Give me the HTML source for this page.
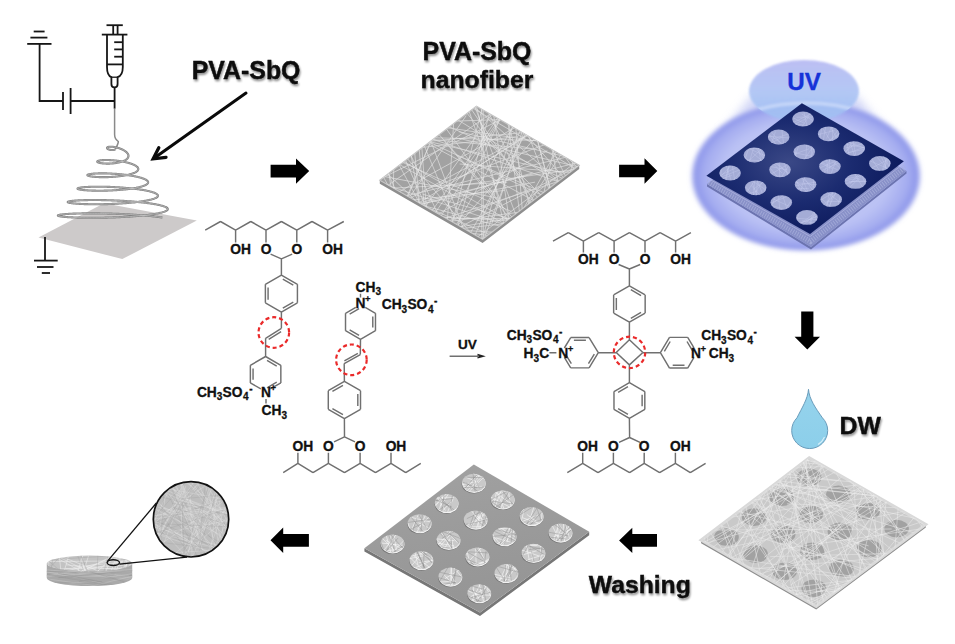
<!DOCTYPE html>
<html><head><meta charset="utf-8"><style>
html,body{margin:0;padding:0;background:#fff;width:955px;height:644px;overflow:hidden}
svg{display:block}
</style></head><body>
<svg width="955" height="644" viewBox="0 0 955 644">
<defs><filter id="tsh" x="-10%" y="-30%" width="130%" height="170%"><feGaussianBlur in="SourceAlpha" stdDeviation="1.2"/><feOffset dx="1" dy="1.5" result="b"/><feComponentTransfer><feFuncA type="linear" slope="0.45"/></feComponentTransfer><feMerge><feMergeNode/><feMergeNode in="SourceGraphic"/></feMerge></filter><linearGradient id="drop" x1="0" y1="0" x2="0" y2="1"><stop offset="0" stop-color="#96d3ec"/><stop offset="1" stop-color="#8ccfea"/></linearGradient><clipPath id="cp1"><polygon points="476.4,106.2 379.8,180.2 482.6,239.3 579.2,165.3"/></clipPath><radialGradient id="glow" cx="0.5" cy="0.5" r="0.5"><stop offset="0" stop-color="#cfd4f8"/><stop offset="0.72" stop-color="#bac1f4"/><stop offset="0.88" stop-color="#a4acf0"/><stop offset="0.96" stop-color="#8e97ea"/><stop offset="1" stop-color="#8e97ea" stop-opacity="0"/></radialGradient><filter id="blur3" x="-20%" y="-20%" width="140%" height="140%"><feGaussianBlur stdDeviation="3"/></filter><filter id="blur2" x="-20%" y="-20%" width="140%" height="140%"><feGaussianBlur stdDeviation="2"/></filter><filter id="blur06" x="-20%" y="-20%" width="140%" height="140%"><feGaussianBlur stdDeviation="0.7"/></filter><filter id="blur1" x="-20%" y="-20%" width="140%" height="140%"><feGaussianBlur stdDeviation="1"/></filter><filter id="blur5" x="-30%" y="-30%" width="160%" height="160%"><feGaussianBlur stdDeviation="5"/></filter><linearGradient id="uvtop" x1="0" y1="0" x2="0" y2="1"><stop offset="0" stop-color="#b3b6f2"/><stop offset="0.6" stop-color="#a9c3f4"/><stop offset="1" stop-color="#9fc0f3"/></linearGradient><clipPath id="cp2"><ellipse cx="804" cy="91" rx="55" ry="31"/></clipPath><clipPath id="cp3"><polygon points="706.4,175.8 810,233.9 903.9,161.3 906.5,171 811,247 707,184"/></clipPath><radialGradient id="mask" cx="0.42" cy="0.45" r="0.62"><stop offset="0" stop-color="#3a4886"/><stop offset="0.5" stop-color="#1b2b70"/><stop offset="1" stop-color="#0a1759"/></radialGradient><clipPath id="cp4"><ellipse cx="803" cy="119" rx="10.8" ry="7.4"/></clipPath><clipPath id="cp5"><ellipse cx="828.6" cy="133.8" rx="10.8" ry="7.4"/></clipPath><clipPath id="cp6"><ellipse cx="854.2" cy="148.6" rx="10.8" ry="7.4"/></clipPath><clipPath id="cp7"><ellipse cx="879.8" cy="163.4" rx="10.8" ry="7.4"/></clipPath><clipPath id="cp8"><ellipse cx="778.7" cy="137" rx="10.8" ry="7.4"/></clipPath><clipPath id="cp9"><ellipse cx="804.3" cy="151.8" rx="10.8" ry="7.4"/></clipPath><clipPath id="cp10"><ellipse cx="829.9" cy="166.6" rx="10.8" ry="7.4"/></clipPath><clipPath id="cp11"><ellipse cx="855.5" cy="181.4" rx="10.8" ry="7.4"/></clipPath><clipPath id="cp12"><ellipse cx="754.4" cy="155" rx="10.8" ry="7.4"/></clipPath><clipPath id="cp13"><ellipse cx="780" cy="169.8" rx="10.8" ry="7.4"/></clipPath><clipPath id="cp14"><ellipse cx="805.6" cy="184.6" rx="10.8" ry="7.4"/></clipPath><clipPath id="cp15"><ellipse cx="831.2" cy="199.4" rx="10.8" ry="7.4"/></clipPath><clipPath id="cp16"><ellipse cx="730.1" cy="173" rx="10.8" ry="7.4"/></clipPath><clipPath id="cp17"><ellipse cx="755.7" cy="187.8" rx="10.8" ry="7.4"/></clipPath><clipPath id="cp18"><ellipse cx="781.3" cy="202.6" rx="10.8" ry="7.4"/></clipPath><clipPath id="cp19"><ellipse cx="806.9" cy="217.4" rx="10.8" ry="7.4"/></clipPath><clipPath id="cp20"><polygon points="809.3,457.8 701.1,540.2 816.2,606.5 925.8,524.4"/></clipPath><linearGradient id="m4" x1="0" y1="0" x2="0.3" y2="1"><stop offset="0" stop-color="#a2a2a2"/><stop offset="1" stop-color="#959595"/></linearGradient><clipPath id="cp21"><ellipse cx="473.7" cy="482.8" rx="11.8" ry="9"/></clipPath><clipPath id="cp22"><ellipse cx="502.6" cy="499.4" rx="11.8" ry="9"/></clipPath><clipPath id="cp23"><ellipse cx="531.5" cy="516" rx="11.8" ry="9"/></clipPath><clipPath id="cp24"><ellipse cx="560.4" cy="532.6" rx="11.8" ry="9"/></clipPath><clipPath id="cp25"><ellipse cx="446.6" cy="503" rx="11.8" ry="9"/></clipPath><clipPath id="cp26"><ellipse cx="475.5" cy="519.6" rx="11.8" ry="9"/></clipPath><clipPath id="cp27"><ellipse cx="504.4" cy="536.2" rx="11.8" ry="9"/></clipPath><clipPath id="cp28"><ellipse cx="533.3" cy="552.8" rx="11.8" ry="9"/></clipPath><clipPath id="cp29"><ellipse cx="419.5" cy="523.2" rx="11.8" ry="9"/></clipPath><clipPath id="cp30"><ellipse cx="448.4" cy="539.8" rx="11.8" ry="9"/></clipPath><clipPath id="cp31"><ellipse cx="477.3" cy="556.4" rx="11.8" ry="9"/></clipPath><clipPath id="cp32"><ellipse cx="506.2" cy="573" rx="11.8" ry="9"/></clipPath><clipPath id="cp33"><ellipse cx="392.4" cy="543.4" rx="11.8" ry="9"/></clipPath><clipPath id="cp34"><ellipse cx="421.3" cy="560" rx="11.8" ry="9"/></clipPath><clipPath id="cp35"><ellipse cx="450.2" cy="576.6" rx="11.8" ry="9"/></clipPath><clipPath id="cp36"><ellipse cx="479.1" cy="593.2" rx="11.8" ry="9"/></clipPath><clipPath id="cp37"><polygon points="46.8,563.5 46.8,578 60,584 89.5,586 119,584 132.2,578 132.2,563.5"/></clipPath><clipPath id="cp38"><ellipse cx="89.5" cy="563.5" rx="42.7" ry="7.9"/></clipPath><clipPath id="cp39"><ellipse cx="190.9" cy="519.6" rx="37.7" ry="37.7"/></clipPath></defs>
<rect width="955" height="644" fill="#fff"/>
<line x1="33.7" y1="31.5" x2="44.6" y2="31.5" stroke="#161616" stroke-width="1.8" /><line x1="30.4" y1="37.6" x2="47.4" y2="37.6" stroke="#161616" stroke-width="1.8" /><line x1="27.2" y1="43.9" x2="51.5" y2="43.9" stroke="#161616" stroke-width="1.8" /><polyline points="39.6,43.9 39.6,101 63,101" fill="none" stroke="#161616" stroke-width="1.8"/><line x1="63" y1="92" x2="63" y2="110" stroke="#161616" stroke-width="1.8" /><line x1="70.6" y1="88" x2="70.6" y2="114" stroke="#161616" stroke-width="1.8" /><line x1="70.6" y1="101" x2="114.6" y2="101" stroke="#161616" stroke-width="1.8" /><line x1="114.6" y1="87" x2="114.6" y2="108.7" stroke="#161616" stroke-width="1.8" /><line x1="106.5" y1="25.2" x2="122.8" y2="25.2" stroke="#161616" stroke-width="1.8" /><line x1="113.2" y1="25.2" x2="113.2" y2="34.6" stroke="#161616" stroke-width="1.8" /><line x1="117.6" y1="25.2" x2="117.6" y2="34.6" stroke="#161616" stroke-width="1.8" /><line x1="101.8" y1="34.6" x2="127.4" y2="34.6" stroke="#161616" stroke-width="1.8" /><path d="M107,34.6 V67 Q107,75.5 111.4,77.2 V84 Q111.4,87.4 114.5,87.4 Q117.6,87.4 117.6,84 V77.2 Q122.8,75.5 122.8,67 V34.6" fill="none" stroke="#161616" stroke-width="1.8" stroke-linejoin="round"/><line x1="107" y1="64.4" x2="122.8" y2="64.4" stroke="#161616" stroke-width="1.8" /><line x1="111.4" y1="77.2" x2="117.6" y2="77.2" stroke="#161616" stroke-width="1.3" /><line x1="114.2" y1="42.2" x2="122.8" y2="42.2" stroke="#161616" stroke-width="1.8" /><line x1="114.2" y1="49.4" x2="122.8" y2="49.4" stroke="#161616" stroke-width="1.8" /><line x1="114.2" y1="56.7" x2="122.8" y2="56.7" stroke="#161616" stroke-width="1.8" /><polygon points="38.5,237.4 104,203.2 196.8,220.4 122.3,259.1" fill="#cdcaca" stroke="none" stroke-width="0" /><line x1="45" y1="237" x2="45" y2="260.6" stroke="#161616" stroke-width="1.8" /><line x1="34" y1="260.6" x2="57.7" y2="260.6" stroke="#161616" stroke-width="1.8" /><line x1="37" y1="267" x2="53.5" y2="267" stroke="#161616" stroke-width="1.8" /><line x1="41.8" y1="273" x2="50" y2="273" stroke="#161616" stroke-width="1.8" /><path d="M114.6,108.7 V134.5 Q114.6,139 118.3,141.5 Q118.5,143 115.3,149.54" stroke="#8a8a8a" stroke-width="1.5" fill="none"/><path d="M115.3,149.54 L115.13,149.6 L114.96,149.66 L114.78,149.71 L114.61,149.76 L114.43,149.81 L114.25,149.85 L114.06,149.89 L113.88,149.92 L113.69,149.96 L113.51,149.98 L113.32,150.01 L113.13,150.02 L112.94,150.04 L112.75,150.05 L112.56,150.06 L112.37,150.07 L112.18,150.07 L111.99,150.06 L111.8,150.06 L111.61,150.05 L111.42,150.04 L111.24,150.02 L111.05,150 L110.87,149.98 L110.68,149.96 L110.51,149.93 L110.33,149.9 L110.15,149.87 L109.98,149.83 L109.81,149.79 L109.64,149.75 L109.48,149.71 L109.32,149.66 L109.16,149.61 L109.01,149.56 L108.86,149.51 L108.72,149.46 L108.58,149.4 L108.44,149.34 L108.31,149.28 L108.19,149.22 L108.07,149.16 L107.96,149.1 L107.85,149.03 L107.74,148.97 L107.65,148.9 L107.56,148.83 L107.47,148.76 L107.39,148.69 L107.32,148.62 L107.26,148.55 L107.2,148.48 L107.15,148.41 L107.1,148.34 L107.07,148.27 L107.04,148.2 L107.01,148.13 L107,148.06 L106.99,147.99 L106.99,147.92 L107,147.86 L107.02,147.79 L107.04,147.72 L107.07,147.66 L107.12,147.6 L107.16,147.53 L107.22,147.47 L107.28,147.41 L107.36,147.36 L107.44,147.3 L107.53,147.25 L107.62,147.19 L107.73,147.14 L107.84,147.1 L107.97,147.05 L108.09,147.01 L108.23,146.97 L108.38,146.93 L108.53,146.89 L108.69,146.86 L108.86,146.83 L109.04,146.8 L109.22,146.78 L109.41,146.76 L109.61,146.74 L109.82,146.72 L110.03,146.71 L110.25,146.7 L110.48,146.7 L110.71,146.7 L110.95,146.7 L111.2,146.7 L111.45,146.71 L111.71,146.73 L111.97,146.74 L112.24,146.76 L112.51,146.79 L112.79,146.81 L113.08,146.85 L113.36,146.88 L113.66,146.92 L113.95,146.96 L114.26,147.01 L114.56,147.06 L114.87,147.12 L115.18,147.18 L115.49,147.24 L115.81,147.31 L116.13,147.38 L116.45,147.45 L116.77,147.53 L117.1,147.61 L117.42,147.7 L117.75,147.79 L118.08,147.89 L118.4,147.98 L118.73,148.09 L119.05,148.19 L119.38,148.3 L119.71,148.42 L120.03,148.53 L120.35,148.66 L120.67,148.78 L120.99,148.91 L121.3,149.04 L121.61,149.17 L121.92,149.31 L122.23,149.45 L122.53,149.6 L122.83,149.75 L123.12,149.9 L123.41,150.05 L123.69,150.21 L123.97,150.37 L124.24,150.53 L124.5,150.7 L124.76,150.86 L125.02,151.03 L125.26,151.21 L125.5,151.38 L125.73,151.56 L125.96,151.74 L126.17,151.92 L126.38,152.1 L126.58,152.29 L126.77,152.47 L126.95,152.66 L127.13,152.85 L127.29,153.04 L127.44,153.24 L127.59,153.43 L127.72,153.62 L127.84,153.82 L127.96,154.02 L128.06,154.21 L128.15,154.41 L128.23,154.61 L128.3,154.81 L128.36,155.01 L128.41,155.2 L128.44,155.4 L128.47,155.6 L128.48,155.8 L128.48,156 L128.47,156.2 L128.44,156.39 L128.41,156.59 L128.36,156.78 L128.3,156.98 L128.23,157.17 L128.15,157.36 L128.05,157.55 L127.95,157.74 L127.83,157.93 L127.69,158.12 L127.55,158.3 L127.39,158.48 L127.23,158.67 L127.05,158.84 L126.86,159.02 L126.65,159.19 L126.44,159.37 L126.21,159.54 L125.98,159.7 L125.73,159.87 L125.47,160.03 L125.2,160.19 L124.92,160.34 L124.63,160.5 L124.33,160.65 L124.02,160.79 L123.7,160.94 L123.37,161.08 L123.03,161.21 L122.68,161.35 L122.32,161.48 L121.95,161.6 L121.58,161.73 L121.2,161.85 L120.81,161.96 L120.41,162.07 L120.01,162.18 L119.59,162.29 L119.18,162.39 L118.75,162.48 L118.32,162.58 L117.89,162.67 L117.45,162.75 L117.01,162.83 L116.56,162.91 L116.11,162.98 L115.65,163.05 L115.19,163.11 L114.73,163.18 L114.27,163.23 L113.8,163.29 L113.34,163.33 L112.87,163.38 L112.4,163.42 L111.93,163.46 L111.46,163.49 L111,163.52 L110.53,163.54 L110.07,163.56 L109.6,163.58 L109.14,163.59 L108.69,163.6 L108.23,163.61 L107.78,163.61 L107.33,163.61 L106.89,163.61 L106.46,163.6 L106.02,163.59 L105.6,163.57 L105.18,163.55 L104.77,163.53 L104.36,163.51 L103.96,163.48 L103.57,163.45 L103.19,163.42 L102.82,163.38 L102.45,163.34 L102.1,163.3 L101.75,163.25 L101.42,163.21 L101.09,163.16 L100.78,163.11 L100.48,163.05 L100.19,163 L99.91,162.94 L99.64,162.88 L99.39,162.82 L99.15,162.75 L98.92,162.69 L98.7,162.62 L98.5,162.56 L98.31,162.49 L98.14,162.42 L97.98,162.35 L97.84,162.28 L97.71,162.2 L97.59,162.13 L97.49,162.06 L97.41,161.98 L97.34,161.91 L97.29,161.84 L97.25,161.76 L97.23,161.69 L97.22,161.61 L97.23,161.54 L97.26,161.47 L97.3,161.4 L97.36,161.32 L97.43,161.25 L97.52,161.18 L97.63,161.11 L97.75,161.05 L97.89,160.98 L98.05,160.91 L98.22,160.85 L98.41,160.79 L98.61,160.73 L98.83,160.67 L99.06,160.61 L99.32,160.56 L99.58,160.51 L99.86,160.46 L100.16,160.41 L100.47,160.36 L100.8,160.32 L101.14,160.28 L101.49,160.24 L101.86,160.21 L102.24,160.17 L102.64,160.15 L103.04,160.12 L103.47,160.1 L103.9,160.08 L104.35,160.06 L104.8,160.05 L105.27,160.04 L105.75,160.03 L106.24,160.03 L106.75,160.03 L107.26,160.04 L107.78,160.04 L108.31,160.06 L108.85,160.07 L109.39,160.09 L109.95,160.12 L110.51,160.14 L111.08,160.18 L111.65,160.21 L112.23,160.25 L112.82,160.3 L113.41,160.34 L114.01,160.39 L114.61,160.45 L115.21,160.51 L115.82,160.57 L116.42,160.64 L117.03,160.72 L117.64,160.79 L118.26,160.87 L118.87,160.96 L119.48,161.04 L120.09,161.14 L120.7,161.23 L121.3,161.33 L121.91,161.44 L122.51,161.55 L123.11,161.66 L123.7,161.77 L124.29,161.89 L124.87,162.02 L125.45,162.14 L126.02,162.27 L126.58,162.41 L127.14,162.55 L127.68,162.69 L128.22,162.83 L128.75,162.98 L129.27,163.13 L129.78,163.28 L130.28,163.44 L130.77,163.6 L131.25,163.76 L131.71,163.93 L132.17,164.1 L132.61,164.27 L133.03,164.44 L133.45,164.62 L133.84,164.8 L134.23,164.98 L134.6,165.16 L134.95,165.35 L135.29,165.53 L135.61,165.72 L135.91,165.91 L136.2,166.1 L136.47,166.3 L136.72,166.49 L136.95,166.69 L137.17,166.89 L137.37,167.08 L137.55,167.28 L137.71,167.48 L137.85,167.68 L137.97,167.89 L138.07,168.09 L138.16,168.29 L138.22,168.49 L138.26,168.69 L138.29,168.9 L138.29,169.1 L138.27,169.3 L138.23,169.5 L138.18,169.7 L138.1,169.9 L138,170.1 L137.88,170.3 L137.74,170.5 L137.58,170.69 L137.4,170.89 L137.2,171.08 L136.98,171.27 L136.74,171.47 L136.48,171.65 L136.2,171.84 L135.9,172.03 L135.58,172.21 L135.24,172.39 L134.88,172.57 L134.51,172.75 L134.11,172.92 L133.7,173.09 L133.27,173.26 L132.82,173.43 L132.36,173.59 L131.88,173.75 L131.38,173.91 L130.87,174.06 L130.34,174.22 L129.79,174.36 L129.23,174.51 L128.66,174.65 L128.07,174.79 L127.47,174.92 L126.85,175.05 L126.23,175.18 L125.59,175.3 L124.94,175.42 L124.28,175.54 L123.61,175.65 L122.92,175.76 L122.23,175.87 L121.53,175.97 L120.83,176.06 L120.11,176.16 L119.39,176.24 L118.66,176.33 L117.93,176.41 L117.19,176.49 L116.45,176.56 L115.7,176.63 L114.95,176.69 L114.2,176.75 L113.44,176.8 L112.69,176.86 L111.93,176.9 L111.18,176.95 L110.42,176.99 L109.67,177.02 L108.92,177.05 L108.17,177.08 L107.43,177.1 L106.69,177.12 L105.95,177.14 L105.22,177.15 L104.5,177.16 L103.78,177.16 L103.07,177.16 L102.37,177.16 L101.68,177.15 L101,177.14 L100.33,177.12 L99.67,177.1 L99.02,177.08 L98.38,177.06 L97.75,177.03 L97.14,177 L96.54,176.97 L95.96,176.93 L95.39,176.89 L94.84,176.85 L94.3,176.8 L93.78,176.75 L93.28,176.7 L92.79,176.65 L92.33,176.6 L91.88,176.54 L91.45,176.48 L91.04,176.42 L90.65,176.36 L90.28,176.29 L89.93,176.22 L89.6,176.16 L89.29,176.09 L89.01,176.02 L88.75,175.94 L88.51,175.87 L88.29,175.8 L88.1,175.72 L87.92,175.64 L87.78,175.57 L87.65,175.49 L87.55,175.41 L87.48,175.34 L87.43,175.26 L87.4,175.18 L87.4,175.1 L87.42,175.03 L87.46,174.95 L87.53,174.87 L87.63,174.8 L87.75,174.72 L87.89,174.65 L88.06,174.57 L88.26,174.5 L88.47,174.43 L88.72,174.36 L88.98,174.29 L89.27,174.23 L89.59,174.16 L89.93,174.1 L90.29,174.04 L90.67,173.98 L91.08,173.92 L91.51,173.87 L91.96,173.81 L92.44,173.76 L92.93,173.72 L93.45,173.67 L93.99,173.63 L94.55,173.59 L95.12,173.55 L95.72,173.52 L96.34,173.49 L96.97,173.46 L97.63,173.44 L98.3,173.42 L98.99,173.4 L99.69,173.38 L100.41,173.37 L101.15,173.37 L101.9,173.36 L102.67,173.36 L103.44,173.37 L104.24,173.38 L105.04,173.39 L105.85,173.4 L106.68,173.42 L107.52,173.45 L108.36,173.47 L109.22,173.51 L110.08,173.54 L110.95,173.58 L111.82,173.63 L112.7,173.68 L113.59,173.73 L114.48,173.78 L115.38,173.85 L116.27,173.91 L117.17,173.98 L118.07,174.05 L118.97,174.13 L119.87,174.21 L120.77,174.3 L121.67,174.39 L122.56,174.48 L123.45,174.58 L124.34,174.68 L125.22,174.79 L126.09,174.9 L126.96,175.01 L127.82,175.13 L128.67,175.25 L129.51,175.38 L130.34,175.51 L131.16,175.64 L131.97,175.78 L132.77,175.92 L133.55,176.06 L134.33,176.21 L135.08,176.36 L135.82,176.51 L136.55,176.67 L137.26,176.83 L137.95,177 L138.62,177.16 L139.28,177.33 L139.92,177.5 L140.53,177.68 L141.13,177.85 L141.7,178.03 L142.26,178.22 L142.79,178.4 L143.3,178.59 L143.79,178.78 L144.25,178.97 L144.69,179.16 L145.1,179.35 L145.49,179.55 L145.85,179.74 L146.19,179.94 L146.5,180.14 L146.79,180.34 L147.05,180.55 L147.28,180.75 L147.48,180.95 L147.66,181.16 L147.81,181.36 L147.93,181.57 L148.02,181.77 L148.08,181.98 L148.12,182.18 L148.12,182.39 L148.1,182.6 L148.05,182.8 L147.97,183.01 L147.86,183.21 L147.72,183.41 L147.56,183.62 L147.36,183.82 L147.14,184.02 L146.88,184.22 L146.6,184.42 L146.29,184.61 L145.96,184.81 L145.59,185 L145.2,185.19 L144.78,185.38 L144.33,185.57 L143.86,185.76 L143.36,185.94 L142.83,186.12 L142.28,186.3 L141.7,186.48 L141.1,186.65 L140.47,186.82 L139.82,186.99 L139.15,187.15 L138.46,187.32 L137.74,187.48 L137,187.63 L136.24,187.79 L135.46,187.93 L134.66,188.08 L133.84,188.22 L133,188.36 L132.14,188.5 L131.27,188.63 L130.38,188.76 L129.47,188.88 L128.55,189 L127.62,189.12 L126.67,189.23 L125.71,189.34 L124.74,189.45 L123.76,189.55 L122.77,189.64 L121.76,189.73 L120.75,189.82 L119.74,189.91 L118.71,189.99 L117.68,190.06 L116.65,190.13 L115.61,190.2 L114.57,190.26 L113.52,190.32 L112.48,190.38 L111.44,190.43 L110.39,190.47 L109.35,190.51 L108.31,190.55 L107.27,190.59 L106.24,190.61 L105.21,190.64 L104.19,190.66 L103.18,190.68 L102.17,190.69 L101.17,190.7 L100.19,190.71 L99.21,190.71 L98.24,190.7 L97.29,190.7 L96.35,190.69 L95.43,190.67 L94.52,190.66 L93.62,190.64 L92.75,190.61 L91.89,190.58 L91.04,190.55 L90.22,190.52 L89.42,190.48 L88.64,190.44 L87.88,190.4 L87.14,190.35 L86.42,190.31 L85.73,190.25 L85.06,190.2 L84.42,190.14 L83.8,190.09 L83.21,190.03 L82.65,189.96 L82.11,189.9 L81.6,189.83 L81.12,189.76 L80.66,189.69 L80.24,189.62 L79.84,189.55 L79.48,189.47 L79.15,189.4 L78.84,189.32 L78.57,189.24 L78.33,189.16 L78.12,189.08 L77.95,189 L77.8,188.92 L77.69,188.84 L77.61,188.76 L77.57,188.68 L77.56,188.6 L77.58,188.52 L77.63,188.44 L77.71,188.36 L77.83,188.28 L77.99,188.2 L78.17,188.12 L78.39,188.04 L78.64,187.96 L78.93,187.89 L79.24,187.81 L79.59,187.74 L79.97,187.67 L80.39,187.6 L80.83,187.53 L81.31,187.47 L81.81,187.4 L82.35,187.34 L82.92,187.28 L83.52,187.22 L84.14,187.17 L84.8,187.12 L85.48,187.07 L86.19,187.02 L86.93,186.98 L87.7,186.94 L88.49,186.9 L89.3,186.86 L90.15,186.83 L91.01,186.8 L91.9,186.77 L92.81,186.75 L93.74,186.73 L94.7,186.72 L95.67,186.71 L96.67,186.7 L97.68,186.7 L98.71,186.7 L99.76,186.7 L100.82,186.71 L101.9,186.72 L102.99,186.73 L104.1,186.75 L105.22,186.78 L106.35,186.81 L107.49,186.84 L108.64,186.87 L109.79,186.91 L110.96,186.96 L112.13,187.01 L113.31,187.06 L114.49,187.12 L115.68,187.18 L116.87,187.25 L118.06,187.32 L119.25,187.39 L120.44,187.47 L121.62,187.55 L122.81,187.64 L123.99,187.73 L125.16,187.83 L126.33,187.93 L127.5,188.03 L128.65,188.14 L129.8,188.25 L130.93,188.37 L132.06,188.49 L133.17,188.61 L134.27,188.74 L135.36,188.88 L136.43,189.01 L137.48,189.15 L138.52,189.29 L139.54,189.44 L140.54,189.59 L141.52,189.74 L142.48,189.9 L143.41,190.06 L144.33,190.22 L145.22,190.39 L146.09,190.56 L146.93,190.73 L147.75,190.91 L148.54,191.09 L149.3,191.27 L150.04,191.45 L150.74,191.64 L151.42,191.82 L152.07,192.01 L152.68,192.21 L153.27,192.4 L153.82,192.6 L154.34,192.79 L154.83,192.99 L155.28,193.19 L155.7,193.4 L156.09,193.6 L156.44,193.8 L156.75,194.01 L157.03,194.22 L157.27,194.42 L157.48,194.63 L157.65,194.84 L157.79,195.05 L157.88,195.26 L157.94,195.47 L157.97,195.68 L157.95,195.89 L157.9,196.09 L157.81,196.3 L157.68,196.51 L157.52,196.72 L157.32,196.93 L157.08,197.13 L156.81,197.34 L156.49,197.54 L156.14,197.74 L155.76,197.94 L155.34,198.14 L154.88,198.34 L154.38,198.54 L153.86,198.73 L153.29,198.92 L152.69,199.12 L152.06,199.3 L151.4,199.49 L150.7,199.67 L149.97,199.85 L149.2,200.03 L148.41,200.21 L147.59,200.38 L146.73,200.55 L145.85,200.72 L144.93,200.88 L143.99,201.04 L143.02,201.2 L142.03,201.36 L141.01,201.51 L139.97,201.65 L138.9,201.8 L137.81,201.94 L136.7,202.07 L135.56,202.21 L134.41,202.34 L133.23,202.46 L132.04,202.58 L130.83,202.7 L129.61,202.81 L128.37,202.92 L127.12,203.03 L125.85,203.13 L124.57,203.22 L123.28,203.31 L121.98,203.4 L120.68,203.49 L119.36,203.56 L118.04,203.64 L116.72,203.71 L115.39,203.78 L114.05,203.84 L112.72,203.9 L111.38,203.95 L110.05,204 L108.72,204.04 L107.39,204.08 L106.06,204.12 L104.74,204.15 L103.43,204.18 L102.12,204.2 L100.83,204.22 L99.54,204.23 L98.26,204.24 L97,204.25 L95.75,204.25 L94.52,204.25 L93.3,204.25 L92.09,204.24 L90.91,204.23 L89.74,204.21 L88.6,204.19 L87.47,204.17 L86.37,204.14 L85.29,204.11 L84.23,204.08 L83.2,204.04 L82.2,204 L81.22,203.95 L80.27,203.91 L79.35,203.86 L78.46,203.81 L77.6,203.75 L76.77,203.7 L75.97,203.64 L75.21,203.57 L74.48,203.51 L73.78,203.44 L73.12,203.37 L72.49,203.3 L71.9,203.23 L71.35,203.16 L70.83,203.08 L70.36,203 L69.92,202.93 L69.51,202.85 L69.15,202.77 L68.83,202.68 L68.55,202.6 L68.31,202.52 L68.11,202.44 L67.95,202.35 L67.83,202.27 L67.75,202.18 L67.71,202.1 L67.72,202.01 L67.77,201.93 L67.86,201.84 L67.99,201.76 L68.16,201.68 L68.37,201.59 L68.63,201.51 L68.92,201.43 L69.26,201.35 L69.64,201.27 L70.06,201.2 L70.52,201.12 L71.02,201.05 L71.56,200.97 L72.14,200.9 L72.75,200.84 L73.41,200.77 L74.1,200.7 L74.83,200.64 L75.6,200.58 L76.41,200.53 L77.24,200.47 L78.12,200.42 L79.03,200.37 L79.97,200.32 L80.94,200.28 L81.95,200.24 L82.99,200.2 L84.06,200.17 L85.15,200.14 L86.28,200.11 L87.43,200.09 L88.61,200.07 L89.82,200.05 L91.05,200.04 L92.3,200.03 L93.58,200.03 L94.88,200.03 L96.19,200.03 L97.53,200.04 L98.89,200.05 L100.26,200.06 L101.65,200.08 L103.05,200.11 L104.46,200.14 L105.89,200.17 L107.33,200.2 L108.78,200.24 L110.23,200.29 L111.7,200.34 L113.17,200.39 L114.64,200.45 L116.12,200.52 L117.6,200.58 L119.08,200.65 L120.56,200.73 L122.03,200.81 L123.51,200.9 L124.98,200.98 L126.44,201.08 L127.9,201.18 L129.35,201.28 L130.79,201.38 L132.22,201.49 L133.63,201.61 L135.04,201.73 L136.42,201.85 L137.8,201.98 L139.15,202.11 L140.49,202.24 L141.8,202.38 L143.1,202.52 L144.38,202.67 L145.63,202.82 L146.85,202.97 L148.06,203.13 L149.23,203.29 L150.38,203.45 L151.5,203.62 L152.59,203.79 L153.64,203.96 L154.67,204.14 L155.67,204.32 L156.63,204.5 L157.55,204.68 L158.45,204.87 L159.3,205.06 L160.12,205.25 L160.9,205.44 L161.64,205.64 L162.34,205.83 L163.01,206.03 L163.63,206.24 L164.21,206.44 L164.75,206.64 L165.25,206.85 L165.7,207.06 L166.11,207.26 L166.48,207.47 L166.8,207.68 L167.08,207.9 L167.32,208.11 L167.51,208.32 L167.65,208.53 L167.75,208.74 L167.8,208.96 L167.81,209.17 L167.77,209.38 L167.68,209.6 L167.55,209.81 L167.38,210.02 L167.15,210.23 L166.88,210.44 L166.57,210.65 L166.21,210.86 L165.81,211.06 L165.36,211.27 L164.86,211.47 L164.33,211.68 L163.74,211.88 L163.12,212.08 L162.45,212.27 L161.74,212.47 L160.99,212.66 L160.19,212.85 L159.36,213.04 L158.48,213.23 L157.57,213.41 L156.62,213.59 L155.63,213.77 L154.6,213.94 L153.54,214.12 L152.44,214.28 L151.31,214.45 L150.14,214.61 L148.94,214.77 L147.71,214.93 L146.45,215.08 L145.16,215.23 L143.84,215.37 L142.5,215.51 L141.13,215.65 L139.73,215.78 L138.31,215.91 L136.87,216.04 L135.41,216.16 L133.92,216.28 L132.42,216.39 L130.9,216.5 L129.36,216.61 L127.81,216.71 L126.24,216.8 L124.67,216.89 L123.08,216.98 L121.48,217.06 L119.88,217.14 L118.26,217.22 L116.65,217.29 L115.02,217.35 L113.4,217.41 L111.77,217.47 L110.15,217.52 L108.53,217.57 L106.91,217.61 L105.29,217.65 L103.68,217.68 L102.08,217.71 L100.49,217.74 L98.9,217.76 L97.33,217.78 L95.78,217.79 L94.23,217.8 L92.7,217.8 L91.19,217.8 L89.7,217.8 L88.23,217.79 L86.78,217.78 L85.35,217.76 L83.95,217.75 L82.57,217.72 L81.21,217.7 L79.89,217.67 L78.59,217.63 L77.33,217.6 L76.09,217.55 L74.89,217.51 L73.72,217.46 L72.58,217.42 L71.48,217.36 L70.42,217.31 L69.39,217.25 L68.4,217.19 L67.45,217.13 L66.55,217.06 L65.68,216.99 L64.85,216.92 L64.07,216.85 L63.33,216.78 L62.64,216.7 L61.99,216.62 L61.39,216.54 L60.83,216.46 L60.32,216.38 L59.85,216.3 L59.44,216.21 L59.07,216.13 L58.75,216.04 L58.48,215.95 L58.26,215.87 L58.08,215.78 L57.96,215.69 L57.89,215.6 L57.87,215.51 L57.89,215.43 L57.97,215.34 L58.1,215.25 L58.28,215.16 L58.51,215.08 L58.79,214.99 L59.11,214.91 L59.49,214.82 L59.92,214.74 L60.4,214.66 L60.92,214.58 L61.5,214.5 L62.12,214.42 L62.79,214.35 L63.5,214.27 L64.27,214.2 L65.07,214.13 L65.93,214.07 L66.82,214 L67.77,213.94 L68.75,213.88 L69.78,213.82 L70.85,213.77 L71.96,213.72 L73.1,213.67 L74.29,213.63 L75.52,213.58 L76.78,213.54 L78.08,213.51 L79.41,213.48 L80.77,213.45 L82.17,213.42 L83.6,213.4 L85.06,213.39 L86.55,213.37 L88.06,213.36 L89.6,213.36 L91.17,213.36 L92.76,213.36 L94.37,213.37 L96,213.38 L97.66,213.39 L99.33,213.41 L101.01,213.44 L102.71,213.46 L104.43,213.5 L106.16,213.53 L107.89,213.58 L109.64,213.62 L111.4,213.67 L113.16,213.73 L114.92,213.79 L116.69,213.85 L118.46,213.92 L120.23,213.99 L122,214.07 L123.77,214.15 L125.53,214.24 L127.28,214.33 L129.03,214.42 L130.77,214.52 L132.49,214.63 L134.21,214.74 L135.91,214.85 L137.59,214.96 L139.26,215.09 L140.91,215.21 L142.54,215.34 L144.15,215.47 L145.74,215.61 L147.3,215.75 L148.84,215.9 L150.34,216.05 L151.83,216.2 L153.28,216.35 L154.7,216.51 L156.08,216.68 L157.44,216.84 L158.76,217.01 L160.04,217.19 L161.29,217.36 L162.5,217.54" fill="none" stroke="#808080" stroke-width="2.1"/><path d="M115.3,149.54 L115.13,149.6 L114.96,149.66 L114.78,149.71 L114.61,149.76 L114.43,149.81 L114.25,149.85 L114.06,149.89 L113.88,149.92 L113.69,149.96 L113.51,149.98 L113.32,150.01 L113.13,150.02 L112.94,150.04 L112.75,150.05 L112.56,150.06 L112.37,150.07 L112.18,150.07 L111.99,150.06 L111.8,150.06 L111.61,150.05 L111.42,150.04 L111.24,150.02 L111.05,150 L110.87,149.98 L110.68,149.96 L110.51,149.93 L110.33,149.9 L110.15,149.87 L109.98,149.83 L109.81,149.79 L109.64,149.75 L109.48,149.71 L109.32,149.66 L109.16,149.61 L109.01,149.56 L108.86,149.51 L108.72,149.46 L108.58,149.4 L108.44,149.34 L108.31,149.28 L108.19,149.22 L108.07,149.16 L107.96,149.1 L107.85,149.03 L107.74,148.97 L107.65,148.9 L107.56,148.83 L107.47,148.76 L107.39,148.69 L107.32,148.62 L107.26,148.55 L107.2,148.48 L107.15,148.41 L107.1,148.34 L107.07,148.27 L107.04,148.2 L107.01,148.13 L107,148.06 L106.99,147.99 L106.99,147.92 L107,147.86 L107.02,147.79 L107.04,147.72 L107.07,147.66 L107.12,147.6 L107.16,147.53 L107.22,147.47 L107.28,147.41 L107.36,147.36 L107.44,147.3 L107.53,147.25 L107.62,147.19 L107.73,147.14 L107.84,147.1 L107.97,147.05 L108.09,147.01 L108.23,146.97 L108.38,146.93 L108.53,146.89 L108.69,146.86 L108.86,146.83 L109.04,146.8 L109.22,146.78 L109.41,146.76 L109.61,146.74 L109.82,146.72 L110.03,146.71 L110.25,146.7 L110.48,146.7 L110.71,146.7 L110.95,146.7 L111.2,146.7 L111.45,146.71 L111.71,146.73 L111.97,146.74 L112.24,146.76 L112.51,146.79 L112.79,146.81 L113.08,146.85 L113.36,146.88 L113.66,146.92 L113.95,146.96 L114.26,147.01 L114.56,147.06 L114.87,147.12 L115.18,147.18 L115.49,147.24 L115.81,147.31 L116.13,147.38 L116.45,147.45 L116.77,147.53 L117.1,147.61 L117.42,147.7 L117.75,147.79 L118.08,147.89 L118.4,147.98 L118.73,148.09 L119.05,148.19 L119.38,148.3 L119.71,148.42 L120.03,148.53 L120.35,148.66 L120.67,148.78 L120.99,148.91 L121.3,149.04 L121.61,149.17 L121.92,149.31 L122.23,149.45 L122.53,149.6 L122.83,149.75 L123.12,149.9 L123.41,150.05 L123.69,150.21 L123.97,150.37 L124.24,150.53 L124.5,150.7 L124.76,150.86 L125.02,151.03 L125.26,151.21 L125.5,151.38 L125.73,151.56 L125.96,151.74 L126.17,151.92 L126.38,152.1 L126.58,152.29 L126.77,152.47 L126.95,152.66 L127.13,152.85 L127.29,153.04 L127.44,153.24 L127.59,153.43 L127.72,153.62 L127.84,153.82 L127.96,154.02 L128.06,154.21 L128.15,154.41 L128.23,154.61 L128.3,154.81 L128.36,155.01 L128.41,155.2 L128.44,155.4 L128.47,155.6 L128.48,155.8 L128.48,156 L128.47,156.2 L128.44,156.39 L128.41,156.59 L128.36,156.78 L128.3,156.98 L128.23,157.17 L128.15,157.36 L128.05,157.55 L127.95,157.74 L127.83,157.93 L127.69,158.12 L127.55,158.3 L127.39,158.48 L127.23,158.67 L127.05,158.84 L126.86,159.02 L126.65,159.19 L126.44,159.37 L126.21,159.54 L125.98,159.7 L125.73,159.87 L125.47,160.03 L125.2,160.19 L124.92,160.34 L124.63,160.5 L124.33,160.65 L124.02,160.79 L123.7,160.94 L123.37,161.08 L123.03,161.21 L122.68,161.35 L122.32,161.48 L121.95,161.6 L121.58,161.73 L121.2,161.85 L120.81,161.96 L120.41,162.07 L120.01,162.18 L119.59,162.29 L119.18,162.39 L118.75,162.48 L118.32,162.58 L117.89,162.67 L117.45,162.75 L117.01,162.83 L116.56,162.91 L116.11,162.98 L115.65,163.05 L115.19,163.11 L114.73,163.18 L114.27,163.23 L113.8,163.29 L113.34,163.33 L112.87,163.38 L112.4,163.42 L111.93,163.46 L111.46,163.49 L111,163.52 L110.53,163.54 L110.07,163.56 L109.6,163.58 L109.14,163.59 L108.69,163.6 L108.23,163.61 L107.78,163.61 L107.33,163.61 L106.89,163.61 L106.46,163.6 L106.02,163.59 L105.6,163.57 L105.18,163.55 L104.77,163.53 L104.36,163.51 L103.96,163.48 L103.57,163.45 L103.19,163.42 L102.82,163.38 L102.45,163.34 L102.1,163.3 L101.75,163.25 L101.42,163.21 L101.09,163.16 L100.78,163.11 L100.48,163.05 L100.19,163 L99.91,162.94 L99.64,162.88 L99.39,162.82 L99.15,162.75 L98.92,162.69 L98.7,162.62 L98.5,162.56 L98.31,162.49 L98.14,162.42 L97.98,162.35 L97.84,162.28 L97.71,162.2 L97.59,162.13 L97.49,162.06 L97.41,161.98 L97.34,161.91 L97.29,161.84 L97.25,161.76 L97.23,161.69 L97.22,161.61 L97.23,161.54 L97.26,161.47 L97.3,161.4 L97.36,161.32 L97.43,161.25 L97.52,161.18 L97.63,161.11 L97.75,161.05 L97.89,160.98 L98.05,160.91 L98.22,160.85 L98.41,160.79 L98.61,160.73 L98.83,160.67 L99.06,160.61 L99.32,160.56 L99.58,160.51 L99.86,160.46 L100.16,160.41 L100.47,160.36 L100.8,160.32 L101.14,160.28 L101.49,160.24 L101.86,160.21 L102.24,160.17 L102.64,160.15 L103.04,160.12 L103.47,160.1 L103.9,160.08 L104.35,160.06 L104.8,160.05 L105.27,160.04 L105.75,160.03 L106.24,160.03 L106.75,160.03 L107.26,160.04 L107.78,160.04 L108.31,160.06 L108.85,160.07 L109.39,160.09 L109.95,160.12 L110.51,160.14 L111.08,160.18 L111.65,160.21 L112.23,160.25 L112.82,160.3 L113.41,160.34 L114.01,160.39 L114.61,160.45 L115.21,160.51 L115.82,160.57 L116.42,160.64 L117.03,160.72 L117.64,160.79 L118.26,160.87 L118.87,160.96 L119.48,161.04 L120.09,161.14 L120.7,161.23 L121.3,161.33 L121.91,161.44 L122.51,161.55 L123.11,161.66 L123.7,161.77 L124.29,161.89 L124.87,162.02 L125.45,162.14 L126.02,162.27 L126.58,162.41 L127.14,162.55 L127.68,162.69 L128.22,162.83 L128.75,162.98 L129.27,163.13 L129.78,163.28 L130.28,163.44 L130.77,163.6 L131.25,163.76 L131.71,163.93 L132.17,164.1 L132.61,164.27 L133.03,164.44 L133.45,164.62 L133.84,164.8 L134.23,164.98 L134.6,165.16 L134.95,165.35 L135.29,165.53 L135.61,165.72 L135.91,165.91 L136.2,166.1 L136.47,166.3 L136.72,166.49 L136.95,166.69 L137.17,166.89 L137.37,167.08 L137.55,167.28 L137.71,167.48 L137.85,167.68 L137.97,167.89 L138.07,168.09 L138.16,168.29 L138.22,168.49 L138.26,168.69 L138.29,168.9 L138.29,169.1 L138.27,169.3 L138.23,169.5 L138.18,169.7 L138.1,169.9 L138,170.1 L137.88,170.3 L137.74,170.5 L137.58,170.69 L137.4,170.89 L137.2,171.08 L136.98,171.27 L136.74,171.47 L136.48,171.65 L136.2,171.84 L135.9,172.03 L135.58,172.21 L135.24,172.39 L134.88,172.57 L134.51,172.75 L134.11,172.92 L133.7,173.09 L133.27,173.26 L132.82,173.43 L132.36,173.59 L131.88,173.75 L131.38,173.91 L130.87,174.06 L130.34,174.22 L129.79,174.36 L129.23,174.51 L128.66,174.65 L128.07,174.79 L127.47,174.92 L126.85,175.05 L126.23,175.18 L125.59,175.3 L124.94,175.42 L124.28,175.54 L123.61,175.65 L122.92,175.76 L122.23,175.87 L121.53,175.97 L120.83,176.06 L120.11,176.16 L119.39,176.24 L118.66,176.33 L117.93,176.41 L117.19,176.49 L116.45,176.56 L115.7,176.63 L114.95,176.69 L114.2,176.75 L113.44,176.8 L112.69,176.86 L111.93,176.9 L111.18,176.95 L110.42,176.99 L109.67,177.02 L108.92,177.05 L108.17,177.08 L107.43,177.1 L106.69,177.12 L105.95,177.14 L105.22,177.15 L104.5,177.16 L103.78,177.16 L103.07,177.16 L102.37,177.16 L101.68,177.15 L101,177.14 L100.33,177.12 L99.67,177.1 L99.02,177.08 L98.38,177.06 L97.75,177.03 L97.14,177 L96.54,176.97 L95.96,176.93 L95.39,176.89 L94.84,176.85 L94.3,176.8 L93.78,176.75 L93.28,176.7 L92.79,176.65 L92.33,176.6 L91.88,176.54 L91.45,176.48 L91.04,176.42 L90.65,176.36 L90.28,176.29 L89.93,176.22 L89.6,176.16 L89.29,176.09 L89.01,176.02 L88.75,175.94 L88.51,175.87 L88.29,175.8 L88.1,175.72 L87.92,175.64 L87.78,175.57 L87.65,175.49 L87.55,175.41 L87.48,175.34 L87.43,175.26 L87.4,175.18 L87.4,175.1 L87.42,175.03 L87.46,174.95 L87.53,174.87 L87.63,174.8 L87.75,174.72 L87.89,174.65 L88.06,174.57 L88.26,174.5 L88.47,174.43 L88.72,174.36 L88.98,174.29 L89.27,174.23 L89.59,174.16 L89.93,174.1 L90.29,174.04 L90.67,173.98 L91.08,173.92 L91.51,173.87 L91.96,173.81 L92.44,173.76 L92.93,173.72 L93.45,173.67 L93.99,173.63 L94.55,173.59 L95.12,173.55 L95.72,173.52 L96.34,173.49 L96.97,173.46 L97.63,173.44 L98.3,173.42 L98.99,173.4 L99.69,173.38 L100.41,173.37 L101.15,173.37 L101.9,173.36 L102.67,173.36 L103.44,173.37 L104.24,173.38 L105.04,173.39 L105.85,173.4 L106.68,173.42 L107.52,173.45 L108.36,173.47 L109.22,173.51 L110.08,173.54 L110.95,173.58 L111.82,173.63 L112.7,173.68 L113.59,173.73 L114.48,173.78 L115.38,173.85 L116.27,173.91 L117.17,173.98 L118.07,174.05 L118.97,174.13 L119.87,174.21 L120.77,174.3 L121.67,174.39 L122.56,174.48 L123.45,174.58 L124.34,174.68 L125.22,174.79 L126.09,174.9 L126.96,175.01 L127.82,175.13 L128.67,175.25 L129.51,175.38 L130.34,175.51 L131.16,175.64 L131.97,175.78 L132.77,175.92 L133.55,176.06 L134.33,176.21 L135.08,176.36 L135.82,176.51 L136.55,176.67 L137.26,176.83 L137.95,177 L138.62,177.16 L139.28,177.33 L139.92,177.5 L140.53,177.68 L141.13,177.85 L141.7,178.03 L142.26,178.22 L142.79,178.4 L143.3,178.59 L143.79,178.78 L144.25,178.97 L144.69,179.16 L145.1,179.35 L145.49,179.55 L145.85,179.74 L146.19,179.94 L146.5,180.14 L146.79,180.34 L147.05,180.55 L147.28,180.75 L147.48,180.95 L147.66,181.16 L147.81,181.36 L147.93,181.57 L148.02,181.77 L148.08,181.98 L148.12,182.18 L148.12,182.39 L148.1,182.6 L148.05,182.8 L147.97,183.01 L147.86,183.21 L147.72,183.41 L147.56,183.62 L147.36,183.82 L147.14,184.02 L146.88,184.22 L146.6,184.42 L146.29,184.61 L145.96,184.81 L145.59,185 L145.2,185.19 L144.78,185.38 L144.33,185.57 L143.86,185.76 L143.36,185.94 L142.83,186.12 L142.28,186.3 L141.7,186.48 L141.1,186.65 L140.47,186.82 L139.82,186.99 L139.15,187.15 L138.46,187.32 L137.74,187.48 L137,187.63 L136.24,187.79 L135.46,187.93 L134.66,188.08 L133.84,188.22 L133,188.36 L132.14,188.5 L131.27,188.63 L130.38,188.76 L129.47,188.88 L128.55,189 L127.62,189.12 L126.67,189.23 L125.71,189.34 L124.74,189.45 L123.76,189.55 L122.77,189.64 L121.76,189.73 L120.75,189.82 L119.74,189.91 L118.71,189.99 L117.68,190.06 L116.65,190.13 L115.61,190.2 L114.57,190.26 L113.52,190.32 L112.48,190.38 L111.44,190.43 L110.39,190.47 L109.35,190.51 L108.31,190.55 L107.27,190.59 L106.24,190.61 L105.21,190.64 L104.19,190.66 L103.18,190.68 L102.17,190.69 L101.17,190.7 L100.19,190.71 L99.21,190.71 L98.24,190.7 L97.29,190.7 L96.35,190.69 L95.43,190.67 L94.52,190.66 L93.62,190.64 L92.75,190.61 L91.89,190.58 L91.04,190.55 L90.22,190.52 L89.42,190.48 L88.64,190.44 L87.88,190.4 L87.14,190.35 L86.42,190.31 L85.73,190.25 L85.06,190.2 L84.42,190.14 L83.8,190.09 L83.21,190.03 L82.65,189.96 L82.11,189.9 L81.6,189.83 L81.12,189.76 L80.66,189.69 L80.24,189.62 L79.84,189.55 L79.48,189.47 L79.15,189.4 L78.84,189.32 L78.57,189.24 L78.33,189.16 L78.12,189.08 L77.95,189 L77.8,188.92 L77.69,188.84 L77.61,188.76 L77.57,188.68 L77.56,188.6 L77.58,188.52 L77.63,188.44 L77.71,188.36 L77.83,188.28 L77.99,188.2 L78.17,188.12 L78.39,188.04 L78.64,187.96 L78.93,187.89 L79.24,187.81 L79.59,187.74 L79.97,187.67 L80.39,187.6 L80.83,187.53 L81.31,187.47 L81.81,187.4 L82.35,187.34 L82.92,187.28 L83.52,187.22 L84.14,187.17 L84.8,187.12 L85.48,187.07 L86.19,187.02 L86.93,186.98 L87.7,186.94 L88.49,186.9 L89.3,186.86 L90.15,186.83 L91.01,186.8 L91.9,186.77 L92.81,186.75 L93.74,186.73 L94.7,186.72 L95.67,186.71 L96.67,186.7 L97.68,186.7 L98.71,186.7 L99.76,186.7 L100.82,186.71 L101.9,186.72 L102.99,186.73 L104.1,186.75 L105.22,186.78 L106.35,186.81 L107.49,186.84 L108.64,186.87 L109.79,186.91 L110.96,186.96 L112.13,187.01 L113.31,187.06 L114.49,187.12 L115.68,187.18 L116.87,187.25 L118.06,187.32 L119.25,187.39 L120.44,187.47 L121.62,187.55 L122.81,187.64 L123.99,187.73 L125.16,187.83 L126.33,187.93 L127.5,188.03 L128.65,188.14 L129.8,188.25 L130.93,188.37 L132.06,188.49 L133.17,188.61 L134.27,188.74 L135.36,188.88 L136.43,189.01 L137.48,189.15 L138.52,189.29 L139.54,189.44 L140.54,189.59 L141.52,189.74 L142.48,189.9 L143.41,190.06 L144.33,190.22 L145.22,190.39 L146.09,190.56 L146.93,190.73 L147.75,190.91 L148.54,191.09 L149.3,191.27 L150.04,191.45 L150.74,191.64 L151.42,191.82 L152.07,192.01 L152.68,192.21 L153.27,192.4 L153.82,192.6 L154.34,192.79 L154.83,192.99 L155.28,193.19 L155.7,193.4 L156.09,193.6 L156.44,193.8 L156.75,194.01 L157.03,194.22 L157.27,194.42 L157.48,194.63 L157.65,194.84 L157.79,195.05 L157.88,195.26 L157.94,195.47 L157.97,195.68 L157.95,195.89 L157.9,196.09 L157.81,196.3 L157.68,196.51 L157.52,196.72 L157.32,196.93 L157.08,197.13 L156.81,197.34 L156.49,197.54 L156.14,197.74 L155.76,197.94 L155.34,198.14 L154.88,198.34 L154.38,198.54 L153.86,198.73 L153.29,198.92 L152.69,199.12 L152.06,199.3 L151.4,199.49 L150.7,199.67 L149.97,199.85 L149.2,200.03 L148.41,200.21 L147.59,200.38 L146.73,200.55 L145.85,200.72 L144.93,200.88 L143.99,201.04 L143.02,201.2 L142.03,201.36 L141.01,201.51 L139.97,201.65 L138.9,201.8 L137.81,201.94 L136.7,202.07 L135.56,202.21 L134.41,202.34 L133.23,202.46 L132.04,202.58 L130.83,202.7 L129.61,202.81 L128.37,202.92 L127.12,203.03 L125.85,203.13 L124.57,203.22 L123.28,203.31 L121.98,203.4 L120.68,203.49 L119.36,203.56 L118.04,203.64 L116.72,203.71 L115.39,203.78 L114.05,203.84 L112.72,203.9 L111.38,203.95 L110.05,204 L108.72,204.04 L107.39,204.08 L106.06,204.12 L104.74,204.15 L103.43,204.18 L102.12,204.2 L100.83,204.22 L99.54,204.23 L98.26,204.24 L97,204.25 L95.75,204.25 L94.52,204.25 L93.3,204.25 L92.09,204.24 L90.91,204.23 L89.74,204.21 L88.6,204.19 L87.47,204.17 L86.37,204.14 L85.29,204.11 L84.23,204.08 L83.2,204.04 L82.2,204 L81.22,203.95 L80.27,203.91 L79.35,203.86 L78.46,203.81 L77.6,203.75 L76.77,203.7 L75.97,203.64 L75.21,203.57 L74.48,203.51 L73.78,203.44 L73.12,203.37 L72.49,203.3 L71.9,203.23 L71.35,203.16 L70.83,203.08 L70.36,203 L69.92,202.93 L69.51,202.85 L69.15,202.77 L68.83,202.68 L68.55,202.6 L68.31,202.52 L68.11,202.44 L67.95,202.35 L67.83,202.27 L67.75,202.18 L67.71,202.1 L67.72,202.01 L67.77,201.93 L67.86,201.84 L67.99,201.76 L68.16,201.68 L68.37,201.59 L68.63,201.51 L68.92,201.43 L69.26,201.35 L69.64,201.27 L70.06,201.2 L70.52,201.12 L71.02,201.05 L71.56,200.97 L72.14,200.9 L72.75,200.84 L73.41,200.77 L74.1,200.7 L74.83,200.64 L75.6,200.58 L76.41,200.53 L77.24,200.47 L78.12,200.42 L79.03,200.37 L79.97,200.32 L80.94,200.28 L81.95,200.24 L82.99,200.2 L84.06,200.17 L85.15,200.14 L86.28,200.11 L87.43,200.09 L88.61,200.07 L89.82,200.05 L91.05,200.04 L92.3,200.03 L93.58,200.03 L94.88,200.03 L96.19,200.03 L97.53,200.04 L98.89,200.05 L100.26,200.06 L101.65,200.08 L103.05,200.11 L104.46,200.14 L105.89,200.17 L107.33,200.2 L108.78,200.24 L110.23,200.29 L111.7,200.34 L113.17,200.39 L114.64,200.45 L116.12,200.52 L117.6,200.58 L119.08,200.65 L120.56,200.73 L122.03,200.81 L123.51,200.9 L124.98,200.98 L126.44,201.08 L127.9,201.18 L129.35,201.28 L130.79,201.38 L132.22,201.49 L133.63,201.61 L135.04,201.73 L136.42,201.85 L137.8,201.98 L139.15,202.11 L140.49,202.24 L141.8,202.38 L143.1,202.52 L144.38,202.67 L145.63,202.82 L146.85,202.97 L148.06,203.13 L149.23,203.29 L150.38,203.45 L151.5,203.62 L152.59,203.79 L153.64,203.96 L154.67,204.14 L155.67,204.32 L156.63,204.5 L157.55,204.68 L158.45,204.87 L159.3,205.06 L160.12,205.25 L160.9,205.44 L161.64,205.64 L162.34,205.83 L163.01,206.03 L163.63,206.24 L164.21,206.44 L164.75,206.64 L165.25,206.85 L165.7,207.06 L166.11,207.26 L166.48,207.47 L166.8,207.68 L167.08,207.9 L167.32,208.11 L167.51,208.32 L167.65,208.53 L167.75,208.74 L167.8,208.96 L167.81,209.17 L167.77,209.38 L167.68,209.6 L167.55,209.81 L167.38,210.02 L167.15,210.23 L166.88,210.44 L166.57,210.65 L166.21,210.86 L165.81,211.06 L165.36,211.27 L164.86,211.47 L164.33,211.68 L163.74,211.88 L163.12,212.08 L162.45,212.27 L161.74,212.47 L160.99,212.66 L160.19,212.85 L159.36,213.04 L158.48,213.23 L157.57,213.41 L156.62,213.59 L155.63,213.77 L154.6,213.94 L153.54,214.12 L152.44,214.28 L151.31,214.45 L150.14,214.61 L148.94,214.77 L147.71,214.93 L146.45,215.08 L145.16,215.23 L143.84,215.37 L142.5,215.51 L141.13,215.65 L139.73,215.78 L138.31,215.91 L136.87,216.04 L135.41,216.16 L133.92,216.28 L132.42,216.39 L130.9,216.5 L129.36,216.61 L127.81,216.71 L126.24,216.8 L124.67,216.89 L123.08,216.98 L121.48,217.06 L119.88,217.14 L118.26,217.22 L116.65,217.29 L115.02,217.35 L113.4,217.41 L111.77,217.47 L110.15,217.52 L108.53,217.57 L106.91,217.61 L105.29,217.65 L103.68,217.68 L102.08,217.71 L100.49,217.74 L98.9,217.76 L97.33,217.78 L95.78,217.79 L94.23,217.8 L92.7,217.8 L91.19,217.8 L89.7,217.8 L88.23,217.79 L86.78,217.78 L85.35,217.76 L83.95,217.75 L82.57,217.72 L81.21,217.7 L79.89,217.67 L78.59,217.63 L77.33,217.6 L76.09,217.55 L74.89,217.51 L73.72,217.46 L72.58,217.42 L71.48,217.36 L70.42,217.31 L69.39,217.25 L68.4,217.19 L67.45,217.13 L66.55,217.06 L65.68,216.99 L64.85,216.92 L64.07,216.85 L63.33,216.78 L62.64,216.7 L61.99,216.62 L61.39,216.54 L60.83,216.46 L60.32,216.38 L59.85,216.3 L59.44,216.21 L59.07,216.13 L58.75,216.04 L58.48,215.95 L58.26,215.87 L58.08,215.78 L57.96,215.69 L57.89,215.6 L57.87,215.51 L57.89,215.43 L57.97,215.34 L58.1,215.25 L58.28,215.16 L58.51,215.08 L58.79,214.99 L59.11,214.91 L59.49,214.82 L59.92,214.74 L60.4,214.66 L60.92,214.58 L61.5,214.5 L62.12,214.42 L62.79,214.35 L63.5,214.27 L64.27,214.2 L65.07,214.13 L65.93,214.07 L66.82,214 L67.77,213.94 L68.75,213.88 L69.78,213.82 L70.85,213.77 L71.96,213.72 L73.1,213.67 L74.29,213.63 L75.52,213.58 L76.78,213.54 L78.08,213.51 L79.41,213.48 L80.77,213.45 L82.17,213.42 L83.6,213.4 L85.06,213.39 L86.55,213.37 L88.06,213.36 L89.6,213.36 L91.17,213.36 L92.76,213.36 L94.37,213.37 L96,213.38 L97.66,213.39 L99.33,213.41 L101.01,213.44 L102.71,213.46 L104.43,213.5 L106.16,213.53 L107.89,213.58 L109.64,213.62 L111.4,213.67 L113.16,213.73 L114.92,213.79 L116.69,213.85 L118.46,213.92 L120.23,213.99 L122,214.07 L123.77,214.15 L125.53,214.24 L127.28,214.33 L129.03,214.42 L130.77,214.52 L132.49,214.63 L134.21,214.74 L135.91,214.85 L137.59,214.96 L139.26,215.09 L140.91,215.21 L142.54,215.34 L144.15,215.47 L145.74,215.61 L147.3,215.75 L148.84,215.9 L150.34,216.05 L151.83,216.2 L153.28,216.35 L154.7,216.51 L156.08,216.68 L157.44,216.84 L158.76,217.01 L160.04,217.19 L161.29,217.36 L162.5,217.54" fill="none" stroke="#d4d4d4" stroke-width="0.6"/><text x="191.8" y="78.6" font-family="Liberation Sans, sans-serif" font-weight="bold" font-size="24.85" fill="#0a0a0a" stroke="#0a0a0a" stroke-width="0.35" text-anchor="start" filter="url(#tsh)">PVA-SbQ</text><line x1="246" y1="93" x2="155" y2="157.5" stroke="#0a0a0a" stroke-width="3.0" stroke-linecap="round"/><polyline points="158.8,147.8 153.2,158.8 166,157.3" fill="none" stroke="#0a0a0a" stroke-width="3.3" stroke-linecap="round" stroke-linejoin="miter"/><polygon points="270.6,164.75 296,164.75 296,158.4 309.2,171.1 296,183.8 296,177.45 270.6,177.45" fill="#000" stroke="none" stroke-width="0" /><polygon points="619.1,164.65 644.5,164.65 644.5,158.3 657.3,171 644.5,183.7 644.5,177.35 619.1,177.35" fill="#000" stroke="none" stroke-width="0" /><polygon points="657,534.05 632.3,534.05 632.3,527.7 619.1,540.4 632.3,553.1 632.3,546.75 657,546.75" fill="#000" stroke="none" stroke-width="0" /><polygon points="308.9,533.95 283.2,533.95 283.2,527.6 270.5,540.3 283.2,553 283.2,546.65 308.9,546.65" fill="#000" stroke="none" stroke-width="0" /><polygon points="801.2,311.4 813.4,311.4 813.4,336.8 820,336.8 807.3,349.6 794.6,336.8 801.2,336.8" fill="#000" stroke="none" stroke-width="0" /><text x="422.6" y="59.6" font-family="Liberation Sans, sans-serif" font-weight="bold" font-size="24.9" fill="#0a0a0a" stroke="#0a0a0a" stroke-width="0.35" text-anchor="start" filter="url(#tsh)">PVA-SbQ</text><text x="420.6" y="87.8" font-family="Liberation Sans, sans-serif" font-weight="bold" font-size="24.75" fill="#0a0a0a" stroke="#0a0a0a" stroke-width="0.35" text-anchor="start" filter="url(#tsh)">nanofiber</text><text x="839.6" y="434.3" font-family="Liberation Sans, sans-serif" font-weight="bold" font-size="24.8" fill="#0a0a0a" stroke="#0a0a0a" stroke-width="0.35" text-anchor="start" filter="url(#tsh)">DW</text><text x="588.8" y="593.4" font-family="Liberation Sans, sans-serif" font-weight="bold" font-size="24.7" fill="#0a0a0a" stroke="#0a0a0a" stroke-width="0.35" text-anchor="start" filter="url(#tsh)">Washing</text><path d="M808.5,389.3 C809.2,399 815.5,408 822.4,417.8 A18,18 0 1 1 797,417.8 C801.8,408 807.8,399 808.5,389.3 Z" fill="url(#drop)" stroke="#6a9cbb" stroke-width="1"/><path d="M824.5,437 A16,16 0 0 1 818,444.5" fill="none" stroke="#e8f6fc" stroke-width="1.1" opacity="0.8"/><polygon points="379.8,180.2 482.6,239.3 579.2,165.3 579.2,168.9 482.6,242.9 379.8,183.8" fill="#8e8e8e" stroke="none" stroke-width="0" /><polygon points="476.4,106.2 379.8,180.2 482.6,239.3 579.2,165.3" fill="#a2a2a2" stroke="#c4c4c4" stroke-width="1.2" /><g clip-path="url(#cp1)"><path d="M586.06,152.29L353.99,208.61M505.03,58.61L440.3,288.47M464.13,64.49L369.37,283.68M468.66,21.18L606.95,215.86M466.22,115.66L329.87,311.71M507,223.44L269.67,249.82M405.05,131.17L615.21,244.57M265.67,154.07L500.3,198.48M298.98,126.91L536.72,149.45M577.39,107.87L367.26,221.31M483.22,71.76L483.39,310.56M435.19,75.27L588.47,258.38M683.2,180.98L473.86,295.88M431.21,69.07L610.5,226.8M526.16,35.34L348.88,195.34M418.01,106.7L501.35,330.49M451.25,218.49L690.05,218.9M410.49,108.2L432.98,345.94M458.82,131.7L691.36,186.01M426.24,120.03L584.29,299.05M515.98,136.79L278.7,163.68M445.47,38.23L616.23,205.16M496.04,42.88L304.17,185.05M395.73,62.61L434.99,298.16M308.51,155.59L527.38,251.09M478.68,5.78L537.52,237.21M541.26,130.99L303.46,152.77M651.55,104.2L428.2,188.7M529.05,105.7L314.81,211.18M627.06,115.33L388.39,123.36M512.66,62.15L332.21,218.55M329.22,118.12L561.7,172.7M311.67,100.95L484.19,266.06M482.17,37.32L517.14,273.55M598.58,54.2L543.15,286.47M446.77,74.73L658.11,185.9M476.21,130.47L645.34,299.06M535.08,182.12L300.46,226.57M530.44,189.18L307.81,275.56M387,123.79L613.21,200.32M300.25,152.74L475.15,315.34M621.76,77.38L418.66,202.97M396.98,82.5L600.42,207.55M433.39,36.64L613.31,193.66M533.27,107.59L449.35,331.15M340.05,156.63L531.48,299.39M363.03,24.14L403.57,259.47M344.19,20.04L439.87,238.84M443.75,15.12L543.97,231.88M613.81,131.23L500.79,341.59M409.57,132.77L625.53,234.69M501.66,75.14L272.3,141.61M400.36,226.08L638.63,242.02M585.7,80.7L427.5,259.58M327.38,210.95L559.54,266.88M602.25,167.19L375.09,240.85M621.77,127.38L431.59,271.8M627.68,53.03L496.49,252.56M528.54,106.48L589.99,337.24M564.39,104.55L510.24,337.13M535.03,41.46L473.7,272.25M551.8,8.54L450.53,224.8M656.13,133.01L499.22,313.02M487.34,88.2L427.26,319.32M352.38,186.44L582.95,248.57M566.65,-3.44L491.94,223.37M545.39,39.66L406.04,233.58M594.64,158.2L363.26,217.25M361.04,10.68L500.78,204.33M412.1,72.29L617.8,193.6M538.58,76.36L581.9,311.2M616.9,45.94L498,253.03M517.4,94.96L321.6,231.66M519.52,111.46L604.34,334.69M387.4,98.56L604.68,197.63M584.96,162.7L372.63,271.97M444.5,141.12L598.56,323.58M336.16,75.1L491.15,256.77M468.55,50.85L376.66,271.27M582.75,90.13L373.81,205.76M459.3,138.42L691.55,193.94M267.88,206.57L504.65,237.6M453.6,83.34L588.43,280.44M428.83,59.11L646.2,157.98M573.22,48.4L367.8,170.18M309.14,107.19L545.35,142.28M552.61,55.8L457.8,274.97M628.74,197.84L391.97,228.92M506.9,13.48L525.53,251.55M405.14,-11.51L425.97,226.38M443.82,39.68L600.42,219.97M456.46,79.59L441.15,317.9M463.07,93.79L541.48,319.36M422.65,194.22L652.54,258.83M455.99,154.69L675.18,249.46" stroke="#dadada" stroke-width="0.95" opacity="0.85" fill="none"/><path d="M534.06,89.99L414.82,296.9M362.6,-2.83L454.15,217.72M501.83,115.15L367.24,312.4M557.65,75.85L441.73,284.63M304.7,106.26L513.13,222.79M660.86,49.47L459.71,178.17M336.34,93.28L453.35,301.45M341.32,211.07L579.71,225.01M395.44,108.35L388.75,347.05M515.84,217.39L280.37,257.18M293.58,113.13L511.2,211.45M338.21,129.98L546.18,247.33M416.13,51.66L621.21,174M512.21,43.73L572.44,274.81M456.25,57.77L540.95,281.05M504.84,190.42L267.29,214.79M522.21,86.81L626.36,301.7M514.26,95.74L390.27,299.83M352.94,28.69L452.36,245.81M481.76,94.34L481.75,333.14M359.61,98.86L411.59,331.94M456.23,19.25L510.34,251.84M344.01,170.84L570.51,246.49M558.37,32.19L420.51,227.17M331.19,37.4L443.48,248.16M491.51,-5.5L521.99,231.35M412.65,24.42L430.45,262.56M689.05,153.48L452.54,186.47M363.93,120.23L462.76,337.62M532.53,172.98L302.79,238.13M471.06,62.91L291.6,220.45M328.66,134.89L567.37,141.37M507.21,182.27L268.72,194.41M459.64,164.02L697.76,181.94M547.31,150.58L341.03,270.87" stroke="#efefef" stroke-width="0.6" opacity="0.9" fill="none"/></g><polygon points="752,95 856,95 902,150 708,150" fill="#aeb6f0" opacity="0.55" filter="url(#blur5)"/><ellipse cx="806" cy="176" rx="116" ry="76" fill="url(#glow)" filter="url(#blur2)"/><ellipse cx="804" cy="91" rx="55" ry="31" fill="url(#uvtop)" opacity="0.88" filter="url(#blur1)"/><g clip-path="url(#cp2)"><ellipse cx="806" cy="176" rx="114" ry="73" fill="none" stroke="#c2d4f8" stroke-width="4" filter="url(#blur1)"/></g><text x="787.2" y="89.6" font-family="Liberation Sans, sans-serif" font-weight="bold" font-size="24.2" fill="#1632d8" stroke="#1632d8" stroke-width="0.35" text-anchor="start">UV</text><polygon points="707,184 811,247 906.5,171 906.5,173.5 811,249.5 707,186.5" fill="#6c74b0" stroke="none" stroke-width="0" /><polygon points="802,110 707,184 811,247 906.5,171" fill="#8890c8" stroke="none" stroke-width="0" /><g clip-path="url(#cp3)"><path d="M706.5,181.5 L810.5,241.5 L905.2,167" fill="none" stroke="#a9b0dc" stroke-width="5" stroke-dasharray="0.9 1.6" opacity="0.8"/><path d="M706.5,177.5 L810.2,236.5 L904.5,163" fill="none" stroke="#b2b8e2" stroke-width="1" opacity="0.7"/></g><polygon points="801.9,103.3 706.4,175.8 810,233.9 903.9,161.3" fill="url(#mask)" stroke="none" stroke-width="0" /><ellipse cx="803" cy="119" rx="10.8" ry="7.4" fill="#a4acd6"/><g clip-path="url(#cp4)"><path d="M780.92,111.97L804.71,123.43M803.95,112.17L809.67,137.94M816.17,112.93L809.12,138.37M805.58,118.61L782.27,131M809.2,116.02L794.18,137.74M804.95,101.44L821.97,121.62M780.93,121.61L807.01,125.76M810.87,113.88L787.17,125.5M815.05,102.69L812.76,128.99M820.02,101.63L802.96,121.77M822.92,116.92L796.53,117.21M801.76,113.99L824.49,127.42" stroke="#c8cef0" stroke-width="0.5" opacity="0.7" fill="none"/></g><ellipse cx="828.6" cy="133.8" rx="10.8" ry="7.4" fill="#a4acd6"/><g clip-path="url(#cp5)"><path d="M840.87,133.04L818.57,147.17M834.45,130.5L808.84,136.93M835.89,114.54L842.53,140.09M826.44,122.03L822.09,148.07M831.97,120.46L832.86,146.85M841.02,125.48L826.14,147.28M823.28,129.17L837.28,151.55M843.82,127.35L827.1,147.78M836.91,114.19L826.65,138.51M827.63,122.48L841.18,145.14M843.8,120.8L834.56,145.52M821.81,127.19L817.64,153.26" stroke="#c8cef0" stroke-width="0.5" opacity="0.7" fill="none"/></g><ellipse cx="854.2" cy="148.6" rx="10.8" ry="7.4" fill="#a4acd6"/><g clip-path="url(#cp6)"><path d="M846.32,144.44L872.27,149.29M860.39,138.57L840.7,156.15M871.11,144.53L846.41,153.86M853.18,141.32L838.22,163.08M853.1,140.59L857.74,166.58M871.48,141.93L845.77,147.9M845.18,130.19L849.11,156.3M849.52,140.34L857.59,165.48M848.24,142.05L873.02,151.15M873.43,147.76L847.47,152.55M872.94,143.55L851.77,159.33M874.91,143.77L855.42,161.58" stroke="#c8cef0" stroke-width="0.5" opacity="0.7" fill="none"/></g><ellipse cx="879.8" cy="163.4" rx="10.8" ry="7.4" fill="#a4acd6"/><g clip-path="url(#cp7)"><path d="M888.57,159.07L877.03,182.82M881.42,157.22L892.48,181.2M862.72,165.19L887.8,173.43M876.75,156.69L893.54,177.06M891.26,154.03L886.97,180.08M893.07,156.87L869.69,169.12M886.31,146.99L885.26,173.37M887.77,155.33L878.59,180.08M865.38,149.44L880.09,171.36M867.26,159.72L891.53,170.11M876.43,144.28L889.51,167.21M879.24,148.31L895.46,169.14" stroke="#c8cef0" stroke-width="0.5" opacity="0.7" fill="none"/></g><ellipse cx="778.7" cy="137" rx="10.8" ry="7.4" fill="#a4acd6"/><g clip-path="url(#cp8)"><path d="M760.44,123.72L776.34,144.8M775.49,131.54L766.86,156.49M765.41,124.31L781.88,144.94M781.84,137.1L759,150.33M763.69,135.78L789.99,138.1M780.84,121.39L784.04,147.59M769.58,125.89L767.4,152.2M798.33,130.76L773.22,138.93M769.62,134.99L791.33,150.01M770.11,143.97L796.47,145.33M757.46,143.04L783.73,145.65M768.95,122.3L766.93,148.62" stroke="#c8cef0" stroke-width="0.5" opacity="0.7" fill="none"/></g><ellipse cx="804.3" cy="151.8" rx="10.8" ry="7.4" fill="#a4acd6"/><g clip-path="url(#cp9)"><path d="M818.78,132.23L811.11,157.49M793.76,137.99L816.58,151.27M790.9,145.79L802.61,169.45M793.26,136.38L796.89,162.53M798.59,146.08L790.4,171.18M786.54,148.43L803,169.07M807.37,131.62L805.89,157.98M815.94,142.53L800.83,164.17M812.06,144.37L809.69,170.67M809.18,148.78L784.35,157.77M788.03,151.31L813.87,156.72M819.77,156.24L793.76,160.77" stroke="#c8cef0" stroke-width="0.5" opacity="0.7" fill="none"/></g><ellipse cx="829.9" cy="166.6" rx="10.8" ry="7.4" fill="#a4acd6"/><g clip-path="url(#cp10)"><path d="M830.14,147.21L828.99,173.58M835.84,161.28L826.22,185.87M835.42,161.22L811.17,171.66M824.79,153.41L843.67,171.86M842.27,156.46L822.74,174.22M826.19,150.73L828.02,177.07M809.36,157.46L833.03,169.14M835.92,152.65L845.05,177.42M837.68,154.72L814.38,167.12M818.37,160.84L842.27,172.06M846.37,159.69L822.22,170.36M832.44,154.22L821.3,178.15" stroke="#c8cef0" stroke-width="0.5" opacity="0.7" fill="none"/></g><ellipse cx="855.5" cy="181.4" rx="10.8" ry="7.4" fill="#a4acd6"/><g clip-path="url(#cp11)"><path d="M870.62,173.71L844.81,179.23M848.82,181.49L875.22,181.54M855.06,174.65L868.7,197.25M857.48,164.08L867.23,188.62M868.19,164.81L849.59,183.54M877.39,180.51L851.01,181.61M860.35,179.39L835.02,186.83M861.5,175.94L842.62,194.4M869.89,166.56L849.97,183.88M873.9,171.02L847.94,175.82M848.53,167.89L872.48,179M859.43,178.03L833.44,182.65" stroke="#c8cef0" stroke-width="0.5" opacity="0.7" fill="none"/></g><ellipse cx="754.4" cy="155" rx="10.8" ry="7.4" fill="#a4acd6"/><g clip-path="url(#cp12)"><path d="M764.87,145.87L745.51,163.82M773.2,156.01L748.38,165.02M758,143.71L762.02,169.81M743.72,147.46L770.01,149.85M756.34,138.66L765.84,163.29M752.23,138.68L743.46,163.58M752.45,152.86L772.87,169.59M737.4,149.65L756.41,167.97M756.09,148.16L771.49,169.6M741.17,145.04L765.25,155.87M753.66,147.55L746.07,172.84M738.62,159.51L764.98,160.89" stroke="#c8cef0" stroke-width="0.5" opacity="0.7" fill="none"/></g><ellipse cx="780" cy="169.8" rx="10.8" ry="7.4" fill="#a4acd6"/><g clip-path="url(#cp13)"><path d="M770.01,154.99L788.19,174.14M795.57,154.01L781.88,176.59M763.18,165.99L779.32,186.89M774.07,162.06L795.06,178.07M782.05,153.09L788.4,178.72M761.6,164.78L787.5,169.93M764.45,153.4L781.97,173.15M792.31,161.83L769.46,175.05M778.81,151.45L779.71,177.84M766.32,163.94L783.78,183.75M761.09,175.38L787.47,176.59M800.29,173.45L775.32,182.01" stroke="#c8cef0" stroke-width="0.5" opacity="0.7" fill="none"/></g><ellipse cx="805.6" cy="184.6" rx="10.8" ry="7.4" fill="#a4acd6"/><g clip-path="url(#cp14)"><path d="M816.86,176.27L790.47,177.12M789.27,174.81L808.34,193.06M795.38,182.53L821.62,185.46M782.44,188.06L808.83,188.61M801.73,178.05L822.99,193.71M823.15,187.57L797.45,193.62M803.68,177.16L818.7,198.87M818.16,181.56L792.2,186.37M802.68,179.4L812.91,203.74M806.81,169.15L799.8,194.61M813.85,178.3L812.07,204.64M794.87,177.6L805.9,201.59" stroke="#c8cef0" stroke-width="0.5" opacity="0.7" fill="none"/></g><ellipse cx="831.2" cy="199.4" rx="10.8" ry="7.4" fill="#a4acd6"/><g clip-path="url(#cp15)"><path d="M833.13,192L827.19,217.72M826.08,191.64L847.07,207.66M821.25,198.24L840.59,216.22M841.77,190.84L834.88,216.32M852.89,201.03L826.5,201.71M810.79,204.55L837.03,207.53M844.57,183.28L827.37,203.31M836.47,191.32L824.92,215.06M829.12,193.05L824.96,219.12M833.7,195.42L814.47,213.52M834.61,187.97L823.13,211.75M837.96,190.34L814.89,203.19" stroke="#c8cef0" stroke-width="0.5" opacity="0.7" fill="none"/></g><ellipse cx="730.1" cy="173" rx="10.8" ry="7.4" fill="#a4acd6"/><g clip-path="url(#cp16)"><path d="M725.88,164.27L733.92,189.42M745.33,163.13L721.62,174.74M731.75,175.39L706.73,183.84M747.28,162.88L730.84,183.54M739.24,156.84L721.06,175.98M729.44,161.39L725.03,187.42M731.59,161.06L735.77,187.13M721.32,157.99L718.74,184.27M723.13,152.55L720.48,178.81M730.88,160.66L723.12,185.89M724.59,161.68L749.63,170.03M741.17,169.27L716.58,178.89" stroke="#c8cef0" stroke-width="0.5" opacity="0.7" fill="none"/></g><ellipse cx="755.7" cy="187.8" rx="10.8" ry="7.4" fill="#a4acd6"/><g clip-path="url(#cp17)"><path d="M755.28,175.1L764.76,199.75M769.38,175L761.86,200.31M758.06,172.5L756.03,198.82M773.99,174.01L752.78,189.72M766.02,177.59L750.3,198.8M741.46,181.95L758.43,202.18M751.28,180.04L773.11,194.89M760.25,172.76L745.11,194.38M754.61,181.72L752.25,208.01M751.29,185.55L768.99,205.14M752.23,182.87L761.36,207.65M758.18,190.69L733.07,198.83" stroke="#c8cef0" stroke-width="0.5" opacity="0.7" fill="none"/></g><ellipse cx="781.3" cy="202.6" rx="10.8" ry="7.4" fill="#a4acd6"/><g clip-path="url(#cp18)"><path d="M782.68,195.41L790.6,220.59M764.62,195.06L788.64,206.01M792.32,194.41L767.82,204.23M784.62,185.75L765.36,203.8M763.91,198.58L781.67,218.11M795.7,196.2L787.66,221.35M792.54,188.09L771.68,204.27M779.87,186.68L799.16,204.71M760.6,202.05L785.83,209.86M778.4,194.9L780.96,221.17M778.12,188.83L769.06,213.63M798.56,187.43L785.29,210.25" stroke="#c8cef0" stroke-width="0.5" opacity="0.7" fill="none"/></g><ellipse cx="806.9" cy="217.4" rx="10.8" ry="7.4" fill="#a4acd6"/><g clip-path="url(#cp19)"><path d="M814.98,211.37L805.66,236.07M821,214.58L796.64,224.75M825.98,220.81L800.79,228.7M817.3,212.92L797.24,230.09M803.47,197.45L796,222.77M802.13,220.71L828.03,225.83M812.01,215.26L790.42,230.44M818.56,197.8L809.71,222.67M821.13,214.68L796.71,224.72M813.06,209.32L821.34,234.39M786.72,217.09L809.35,230.68M791.63,217.94L817.96,219.82" stroke="#c8cef0" stroke-width="0.5" opacity="0.7" fill="none"/></g><polygon points="701.1,540.2 816.2,606.5 925.8,524.4 925.8,527.4 816.2,609.5 701.1,543.2" fill="#8e8e8e" stroke="none" stroke-width="0" /><polygon points="809.3,457.8 701.1,540.2 816.2,606.5 925.8,524.4" fill="#c9c9c9" stroke="#d9d9d9" stroke-width="3" /><g clip-path="url(#cp20)"><g filter="url(#blur06)"><ellipse cx="809.3" cy="477.3" rx="12.3" ry="8.8" fill="#a2a2a2"/><ellipse cx="838.4" cy="494.4" rx="12.3" ry="8.8" fill="#a2a2a2"/><ellipse cx="867.5" cy="511.5" rx="12.3" ry="8.8" fill="#a2a2a2"/><ellipse cx="896.6" cy="528.6" rx="12.3" ry="8.8" fill="#a2a2a2"/><ellipse cx="781.7" cy="497.2" rx="12.3" ry="8.8" fill="#a2a2a2"/><ellipse cx="810.8" cy="514.3" rx="12.3" ry="8.8" fill="#a2a2a2"/><ellipse cx="839.9" cy="531.4" rx="12.3" ry="8.8" fill="#a2a2a2"/><ellipse cx="869" cy="548.5" rx="12.3" ry="8.8" fill="#a2a2a2"/><ellipse cx="754.1" cy="517.1" rx="12.3" ry="8.8" fill="#a2a2a2"/><ellipse cx="783.2" cy="534.2" rx="12.3" ry="8.8" fill="#a2a2a2"/><ellipse cx="812.3" cy="551.3" rx="12.3" ry="8.8" fill="#a2a2a2"/><ellipse cx="841.4" cy="568.4" rx="12.3" ry="8.8" fill="#a2a2a2"/><ellipse cx="726.5" cy="537" rx="12.3" ry="8.8" fill="#a2a2a2"/><ellipse cx="755.6" cy="554.1" rx="12.3" ry="8.8" fill="#a2a2a2"/><ellipse cx="784.7" cy="571.2" rx="12.3" ry="8.8" fill="#a2a2a2"/><ellipse cx="813.8" cy="588.3" rx="12.3" ry="8.8" fill="#a2a2a2"/></g><path d="M657.98,345.65L747.57,601.62M727.33,430.62L981.78,524.44M631.07,508.55L873.71,629.7M744.08,498.59L990.7,611.41M784.28,392.75L857.84,653.78M789.85,462.11L1060.5,479.45M802.32,437.45L1022.47,595.82M908.9,491.95L640.4,530.06M783.28,358.3L711.79,619.91M942.26,532.34L705.15,663.97M898.43,420.51L662.26,553.83M1014.78,361.21L832.23,561.78M791.32,467.48L1001.17,639.27M768.8,487.46L991.26,642.57M710.39,471.85L979.29,507.03M732.49,378.03L819.39,634.93M980.77,564.32L711.57,597.19M1027.78,520.88L813.57,687.2M820.63,357.61L717.83,608.57M693.57,517.56L953.14,596.1M786.04,464.53L701.11,722.09M814.92,342.3L899.39,600.01M1041.23,549.55L770.13,556.66M854.34,444.79L634.66,603.83M826.61,440.7L774.39,706.82M862.08,464.39L591.27,478.87M659.86,367.9L794.07,603.56M850.89,448.2L871.59,718.61M725.49,469.75L899.67,677.63M840.44,424.31L727.89,671.05M585.54,416.64L831.67,530.52M999,548.13L728.76,570.97M973.9,403.6L773.03,585.81M787.1,503.84L1058.13,513.37M669.42,427.56L900.16,570.07M833.81,419.75L586.57,531.21M603.25,465.94L819.35,629.79M663.55,469.08L823.83,687.85M819.49,413.36L663.6,635.28M777.17,455.09L859.85,713.39M802.09,428.52L834.78,697.74M738.22,470.83L985.87,581.37M822.23,475.48L633.59,670.32M946.68,427.77L879.45,690.51M611.29,533.82L863.82,632.71M746.38,351.63L845.66,604M852.9,413.12L685.95,626.84M926.55,406.11L718.23,579.75M731.26,565.41L1001.01,593.45M745.74,491.01L932.11,688.03M689.45,454.06L801.92,700.84M742.42,451.29L838.96,704.73M681.63,368.77L808.07,608.69M959.73,422.17L755.71,600.84M766.77,368.57L663.05,619.15M941.19,503.66L675.55,558.3M627.84,469.52L897.52,498.22M797.88,365.84L820.2,636.12M651.22,331L751.31,583.06M1001.74,464.69L740.7,538.25M934.65,429.34L727.24,604.08M872.84,483.69L632.56,609.45M692.77,464.04L951.73,544.6M777.15,359.78L882.35,609.75M892.85,480.3L752.33,712.26M740.66,472.22L894.08,695.85M810.6,423.59L764.61,690.86M865.37,446.38L634.81,589.18M620.71,541.04L888.81,581.89M844.43,442.91L987.07,673.57M789.14,548.77L1055.27,601M891.71,529.01L620.51,530.53M656.51,351.28L807.09,576.83M726.49,382.91L693.77,652.13M664.3,468.07L934.78,487.78M872.95,386.79L889.94,657.46M937.1,516.88L678.98,600.07M821.18,446.03L952.67,683.22M860.66,412.18L615.62,528.39M843.04,503.31L582.67,579.18M738.28,383.47L807.38,645.72M1032.04,492.5L794.86,624.01M687.97,431.1L729.58,699.09M882.1,477.65L699.37,678.06M1035.98,528.47L775.55,604.13M902.52,454.44L690.99,624.17M838.48,346.57L766.54,608.06M771.64,533.89L1022.15,637.8M721.17,371.8L851.07,609.86M841.76,406.41L991.93,632.23M830.52,405.39L692.68,638.95M674.61,396.15L880.22,572.99M641.91,522.3L875.58,659.94M976.48,388.53L764.34,557.49M731.41,439.85L788.82,704.91" stroke="#e4e4e4" stroke-width="0.85" opacity="0.75" fill="none"/><path d="M638.88,378.13L796.12,599.1M989.96,426.03L816.93,634.86M842.11,468.15L603.2,596.5M944.51,547.61L691.79,646.02M881.29,362.83L686.38,551.39M818.46,356.87L638.68,559.91M1024.63,561.05L756.33,600.58M619.62,418.85L871.54,519.28M802.05,408.41L1039.89,538.72M569.92,448.04L839.16,480.56M703.45,369.09L856.12,593.24M1023.1,407.11L796.73,556.46M898.81,409.36L834.93,672.93M772.14,454.44L975.97,633.34M732.82,364.07L816.1,622.16M790.75,490.73L1055.49,549.59M784.66,443.66L830.83,710.9M725.72,444.04L991.72,496.87M770.54,353.94L928.56,574.35M652.21,470.18L921.64,501.1M777.28,485.38L625.76,710.3M1049.32,510.42L780.89,549.13M905.64,413.29L884.23,683.65M763.54,364.89L866.37,615.84M984.18,424.3L742.57,547.49M930.13,474.42L700.31,618.41M749.48,382.18L942.6,572.59M834.27,440.46L566.21,481.64M938.65,514.13L729.38,686.63M902.98,567.48L639.77,632.81M729.91,355.19L876.35,583.46M606.51,476.35L868.65,545.87M754.25,518.61L968.14,685.34M868.9,408.1L883.68,678.89M1019.79,440.57L790.31,585.11M593.96,526.28L821.75,673.46M787.75,483.34L613.94,691.53M801.55,444.7L903.47,696.02M860.02,484.42L591.69,523.76M897.33,357.67L946.29,624.42M666.26,588.47L937.42,593.18M908.25,360.52L866.55,628.5M855.73,420.75L602.62,518.14M937.22,544.97L690.1,656.69M907.6,337.75L832.51,598.35" stroke="#f3f3f3" stroke-width="0.55" opacity="0.8" fill="none"/></g><polygon points="364.4,548.2 480,612.5 589.2,531.8 589.2,535.2 480,615.9 364.4,551.6" fill="#777777" stroke="none" stroke-width="0" /><polygon points="473.8,464.5 364.4,548.2 480,612.5 589.2,531.8" fill="url(#m4)" stroke="none" stroke-width="0" /><ellipse cx="473.7" cy="484.2" rx="12" ry="9.3" fill="#6f6f6f" opacity="0.8"/><ellipse cx="474.2" cy="483.7" rx="11.6" ry="9.2" fill="#f2f2f2"/><ellipse cx="473.7" cy="482.8" rx="11.8" ry="9.0" fill="#c9c9c9"/><g clip-path="url(#cp21)"><path d="M485.86,463.67L471.36,488.56M450.98,471.83L477.99,481.83M456.36,470.22L468.95,496.12M488.61,472.45L468,492.56M482.14,486.38L453.35,487.23M476.94,481.36L448.87,487.84M477.12,475.79L458.02,497.34M484.6,474.32L463.55,493.97M467.01,469.02L491.97,483.4M469.82,464L480.34,490.81" stroke="#f4f4f4" stroke-width="0.8" opacity="0.85" fill="none"/><path d="M476.88,474.8L457.78,496.36M473.98,474.81L484.67,501.55M461.23,477.14L490.02,477.86M491.39,486.93L462.59,487.52M472.38,468.29L475.79,496.89M466.38,483.01L489.53,500.15M450.21,477.1L476.93,487.87" stroke="#8a8a8a" stroke-width="0.6" opacity="0.7" fill="none"/></g><ellipse cx="502.6" cy="500.8" rx="12" ry="9.3" fill="#6f6f6f" opacity="0.8"/><ellipse cx="503.1" cy="500.3" rx="11.6" ry="9.2" fill="#f2f2f2"/><ellipse cx="502.6" cy="499.4" rx="11.8" ry="9.0" fill="#c9c9c9"/><g clip-path="url(#cp22)"><path d="M502.49,482.4L501.54,511.18M507.07,483.39L511.74,511.8M500.73,492.06L480.55,512.6M501.58,489.42L491.57,516.43M496.88,487.34L524.87,494.12M494.54,491.79L517.77,508.81M496.6,491.55L490.33,519.66M484.73,493.97L510.25,507.3M500.04,490.37L528.46,495.04M496.31,489.93L507.28,516.56" stroke="#f4f4f4" stroke-width="0.8" opacity="0.85" fill="none"/><path d="M480.03,493.48L503.44,510.25M514.75,487.4L489.15,500.58M522.38,499.54L497.97,514.82M490.51,500.91L519.05,504.76M517.83,491.53L494.38,508.26M513.9,483.71L498.58,508.09M495.74,482.23L513.39,504.98" stroke="#8a8a8a" stroke-width="0.6" opacity="0.7" fill="none"/></g><ellipse cx="531.5" cy="517.4" rx="12" ry="9.3" fill="#6f6f6f" opacity="0.8"/><ellipse cx="532" cy="516.9" rx="11.6" ry="9.2" fill="#f2f2f2"/><ellipse cx="531.5" cy="516" rx="11.8" ry="9.0" fill="#c9c9c9"/><g clip-path="url(#cp23)"><path d="M542.61,503.58L540.71,532.32M537.43,496.17L528.56,523.57M526.78,514.3L548.85,532.81M507.96,520.54L536.23,526.01M526.79,498.78L519.96,526.76M529.52,516.18L552.63,533.37M538.23,514.72L511.73,526.01M537.48,501.89L512.05,515.41M522.43,517.68L549.43,527.71M528.94,500.28L513.47,524.58" stroke="#f4f4f4" stroke-width="0.8" opacity="0.85" fill="none"/><path d="M532.89,496.67L542.29,523.89M542.39,500.97L517.91,516.14M548.51,503.94L529.68,525.73M545.7,517.78L519.09,528.8M538.97,504.87L523.45,529.13M537.47,514.19L516.19,533.61M531.92,502.21L511.78,522.79" stroke="#8a8a8a" stroke-width="0.6" opacity="0.7" fill="none"/></g><ellipse cx="560.4" cy="534" rx="12" ry="9.3" fill="#6f6f6f" opacity="0.8"/><ellipse cx="560.9" cy="533.5" rx="11.6" ry="9.2" fill="#f2f2f2"/><ellipse cx="560.4" cy="532.6" rx="11.8" ry="9.0" fill="#c9c9c9"/><g clip-path="url(#cp24)"><path d="M562.92,515.25L564.66,544M557.71,527.44L549.26,554.97M582.87,520.07L559.52,536.94M569.47,523.52L561.17,551.1M579.89,525.37L553.47,536.83M564.7,520.15L571.85,548.04M557.64,522.49L574.04,546.17M561.74,527.7L549.95,553.97M556.87,510.43L558.27,539.19M549.14,519.55L562.27,545.19" stroke="#f4f4f4" stroke-width="0.8" opacity="0.85" fill="none"/><path d="M552.34,516.12L569.38,539.33M542.37,515.86L565.75,532.68M572.61,524.12L553.04,545.25M540.3,530.62L568.6,535.98M566.49,524.14L557.77,551.59M536.92,535.79L565.55,538.89M582.66,518.84L561.88,538.77" stroke="#8a8a8a" stroke-width="0.6" opacity="0.7" fill="none"/></g><ellipse cx="446.6" cy="504.4" rx="12" ry="9.3" fill="#6f6f6f" opacity="0.8"/><ellipse cx="447.1" cy="503.9" rx="11.6" ry="9.2" fill="#f2f2f2"/><ellipse cx="446.6" cy="503" rx="11.8" ry="9.0" fill="#c9c9c9"/><g clip-path="url(#cp25)"><path d="M442.86,496.64L435.33,524.44M447.51,491.42L429.11,513.57M451.45,501.52L431.65,522.44M453.4,497.72L424.6,498.13M456.17,482.12L440.42,506.24M437.33,483.43L433.21,511.94M448.88,491.28L428.69,511.83M430.29,486.12L445.44,510.61M453.86,496.93L442.81,523.53M467.21,504.35L441.7,517.71" stroke="#f4f4f4" stroke-width="0.8" opacity="0.85" fill="none"/><path d="M438.74,495.55L458.04,516.92M425.59,495.55L451.99,507.06M453.63,498.25L425.09,502.1M444.96,487.88L441.12,516.42M450.14,502.74L425.91,518.31M455.17,479.85L450.19,508.22M441.74,501.29L465.41,517.7" stroke="#8a8a8a" stroke-width="0.6" opacity="0.7" fill="none"/></g><ellipse cx="475.5" cy="521" rx="12" ry="9.3" fill="#6f6f6f" opacity="0.8"/><ellipse cx="476" cy="520.5" rx="11.6" ry="9.2" fill="#f2f2f2"/><ellipse cx="475.5" cy="519.6" rx="11.8" ry="9.0" fill="#c9c9c9"/><g clip-path="url(#cp26)"><path d="M463.18,499.71L480.47,522.74M478.01,513.88L480.14,542.6M482.66,512.19L464.84,534.82M472.85,514.29L498.66,527.07M482.85,514.1L478.02,542.49M491.24,526.58L462.44,526.92M495.66,516.25L467.89,523.89M484.3,500.73L476.55,528.47M490.28,510.78L466.98,527.71M489.43,510.19L465.69,526.49" stroke="#f4f4f4" stroke-width="0.8" opacity="0.85" fill="none"/><path d="M477.18,506.61L489.42,532.68M474.49,517.13L494.97,537.38M493.01,506.55L466.86,518.61M483.21,502.56L470.4,528.35M478.95,499.73L469.55,526.95M492.59,501.57L481.15,527.99M492.17,518.68L464.02,524.76" stroke="#8a8a8a" stroke-width="0.6" opacity="0.7" fill="none"/></g><ellipse cx="504.4" cy="537.6" rx="12" ry="9.3" fill="#6f6f6f" opacity="0.8"/><ellipse cx="504.9" cy="537.1" rx="11.6" ry="9.2" fill="#f2f2f2"/><ellipse cx="504.4" cy="536.2" rx="11.8" ry="9.0" fill="#c9c9c9"/><g clip-path="url(#cp27)"><path d="M491.29,529.68L500.14,557.08M491.72,533.66L509.6,556.23M511.86,513.74L507.11,542.14M517.38,527.99L498.37,549.62M515.02,529.73L494.84,550.28M498.88,526.87L523.46,541.87M496.05,537.95L523.73,545.88M495.37,526.65L519.34,542.62M514.07,529.42L492.66,548.68M483.25,527.14L511.98,529.08" stroke="#f4f4f4" stroke-width="0.8" opacity="0.85" fill="none"/><path d="M516.2,517.67L504.17,543.84M513.08,525.77L509.66,554.36M490.78,528.11L518.67,535.29M515.86,521.63L514.81,550.41M492.5,530.48L518.73,542.37M512.25,534.58L483.57,537.21M508.17,528.37L494.51,553.73" stroke="#8a8a8a" stroke-width="0.6" opacity="0.7" fill="none"/></g><ellipse cx="533.3" cy="554.2" rx="12" ry="9.3" fill="#6f6f6f" opacity="0.8"/><ellipse cx="533.8" cy="553.7" rx="11.6" ry="9.2" fill="#f2f2f2"/><ellipse cx="533.3" cy="552.8" rx="11.8" ry="9.0" fill="#c9c9c9"/><g clip-path="url(#cp28)"><path d="M536.79,550.73L509.15,558.83M537.58,545.49L508.79,546.55M527.07,537.66L551.25,553.31M555.46,551.03L528,559.7M541.09,537.93L540.03,566.71M550.99,543.6L522.26,545.55M523.86,531.53L529.21,559.83M517.93,545.96L526.95,573.31M529.36,539.94L534.4,568.29M514.84,547.65L542.08,557.02" stroke="#f4f4f4" stroke-width="0.8" opacity="0.85" fill="none"/><path d="M557.4,545.51L528.91,549.7M529.63,546.02L554.54,560.47M527.97,537.62L534.97,565.56M524.77,545.06L552.78,551.73M513.44,557.67L541.62,563.63M531.32,540.08L517.22,565.19M542.7,545.07L536.24,573.14" stroke="#8a8a8a" stroke-width="0.6" opacity="0.7" fill="none"/></g><ellipse cx="419.5" cy="524.6" rx="12" ry="9.3" fill="#6f6f6f" opacity="0.8"/><ellipse cx="420" cy="524.1" rx="11.6" ry="9.2" fill="#f2f2f2"/><ellipse cx="419.5" cy="523.2" rx="11.8" ry="9.0" fill="#c9c9c9"/><g clip-path="url(#cp29)"><path d="M423.65,502.94L411.79,529.18M422.64,503.79L438.32,527.96M409.53,516.99L437.56,523.59M417.33,512.09L444.62,521.29M436.73,529.31L408.23,533.44M429.21,507.95L416.2,533.65M418.57,522.76L444.19,535.91M437.54,507.98L417.63,528.79M393.72,529.75L422.34,532.88M406.03,517.87L415.57,545.05" stroke="#f4f4f4" stroke-width="0.8" opacity="0.85" fill="none"/><path d="M432.53,517.82L420.92,544.17M417.02,517.49L408.5,545M411.63,502.44L426.1,527.34M431.55,519.3L402.99,523.05M422.39,514.26L420.08,542.96M405.91,510.86L424.28,533.04M422.35,523.55L396.4,536.05" stroke="#8a8a8a" stroke-width="0.6" opacity="0.7" fill="none"/></g><ellipse cx="448.4" cy="541.2" rx="12" ry="9.3" fill="#6f6f6f" opacity="0.8"/><ellipse cx="448.9" cy="540.7" rx="11.6" ry="9.2" fill="#f2f2f2"/><ellipse cx="448.4" cy="539.8" rx="11.8" ry="9.0" fill="#c9c9c9"/><g clip-path="url(#cp30)"><path d="M449.8,528.48L454.97,556.81M434.42,537.33L455.24,557.23M453.58,530.65L434.73,552.42M425.8,537.73L454.45,540.74M455.95,525.89L436.24,546.89M439.83,530L454.72,554.66M438.27,521.12L457.37,542.67M452.06,535.24L437.97,560.37M425.65,541.41L454.11,545.79M435.17,546.61L463.95,547.58" stroke="#f4f4f4" stroke-width="0.8" opacity="0.85" fill="none"/><path d="M430.19,523.91L450.9,543.93M422.96,544.33L451.48,548.34M450.68,531.28L452.5,560.02M438.56,526.38L453.69,550.88M467.48,524.43L442.19,538.21M447.61,531.65L468.34,551.65M433.13,527.73L459.91,538.31" stroke="#8a8a8a" stroke-width="0.6" opacity="0.7" fill="none"/></g><ellipse cx="477.3" cy="557.8" rx="12" ry="9.3" fill="#6f6f6f" opacity="0.8"/><ellipse cx="477.8" cy="557.3" rx="11.6" ry="9.2" fill="#f2f2f2"/><ellipse cx="477.3" cy="556.4" rx="11.8" ry="9.0" fill="#c9c9c9"/><g clip-path="url(#cp31)"><path d="M492.88,557.24L466.92,569.71M476.11,542.21L488.45,568.23M464.09,537.44L470.18,565.59M502.5,555.22L475.61,565.55M475.6,545.32L476.45,574.11M501.62,557.61L473.64,564.44M473.94,543.63L456.86,566.82M487.17,541.24L467.79,562.54M454.65,548.99L477.37,566.69M497.58,549.39L479.27,571.62" stroke="#f4f4f4" stroke-width="0.8" opacity="0.85" fill="none"/><path d="M486.4,549.27L482.31,577.78M453.13,553.44L479.71,564.53M461.06,550.91L480.42,572.23M458.08,559.04L485.46,567.95M467.9,537.45L484.9,560.69M467.41,551.77L496.17,553.29M461.03,548.44L486.08,562.64" stroke="#8a8a8a" stroke-width="0.6" opacity="0.7" fill="none"/></g><ellipse cx="506.2" cy="574.4" rx="12" ry="9.3" fill="#6f6f6f" opacity="0.8"/><ellipse cx="506.7" cy="573.9" rx="11.6" ry="9.2" fill="#f2f2f2"/><ellipse cx="506.2" cy="573" rx="11.8" ry="9.0" fill="#c9c9c9"/><g clip-path="url(#cp32)"><path d="M500.7,562.28L526.87,574.31M510.45,561.13L502.14,588.71M510.8,569.64L489.74,589.28M522.74,562.09L511.66,588.68M520.18,561.66L502.6,584.48M507.69,553.84L504.91,582.51M493.31,576.94L521.61,582.29M507.16,556.85L522.61,581.16M508.48,562.03L495.72,587.85M483.41,571.79L511.51,578.11" stroke="#f4f4f4" stroke-width="0.8" opacity="0.85" fill="none"/><path d="M508.7,558.57L512.07,587.17M493.87,565.31L521.6,573.1M517.24,563.42L517.19,592.22M493.16,562.36L508.42,586.78M506.7,556.98L503.8,585.63M516.01,553.93L506.67,581.18M514.37,560.54L501.35,586.23" stroke="#8a8a8a" stroke-width="0.6" opacity="0.7" fill="none"/></g><ellipse cx="392.4" cy="544.8" rx="12" ry="9.3" fill="#6f6f6f" opacity="0.8"/><ellipse cx="392.9" cy="544.3" rx="11.6" ry="9.2" fill="#f2f2f2"/><ellipse cx="392.4" cy="543.4" rx="11.8" ry="9.0" fill="#c9c9c9"/><g clip-path="url(#cp33)"><path d="M396.79,533.84L379.02,556.51M391.83,524.72L412.01,545.27M383.28,524.33L390.69,552.16M374.36,530.16L394.6,550.65M403.46,548.72L374.87,552.18M390.05,535.81L395.69,564.05M412.72,531.72L392.44,552.16M377.34,542.55L405.96,545.74M391.24,521.93L396.59,550.23M385.8,540.35L411.27,553.79" stroke="#f4f4f4" stroke-width="0.8" opacity="0.85" fill="none"/><path d="M386.81,530.46L406.24,551.72M407.97,542.63L383.8,558.28M404.21,528.18L403.91,556.98M396.8,529.38L384.38,555.37M378.25,534.67L387.97,561.78M398.01,538.11L378.74,559.52M385.97,528.08L396.47,554.9" stroke="#8a8a8a" stroke-width="0.6" opacity="0.7" fill="none"/></g><ellipse cx="421.3" cy="561.4" rx="12" ry="9.3" fill="#6f6f6f" opacity="0.8"/><ellipse cx="421.8" cy="560.9" rx="11.6" ry="9.2" fill="#f2f2f2"/><ellipse cx="421.3" cy="560" rx="11.8" ry="9.0" fill="#c9c9c9"/><g clip-path="url(#cp34)"><path d="M419.06,552.71L445.42,564.31M425.02,549.76L406.44,571.76M434.64,558.95L408.47,570.97M411.23,537.1L417.99,565.1M413.49,555.6L436.79,572.52M401.44,549.16L422.02,569.32M439.28,548.99L411.41,556.24M423.44,555.84L395.18,561.38M446.98,557.44L418.68,562.79M432.05,552.1L431.73,580.9" stroke="#f4f4f4" stroke-width="0.8" opacity="0.85" fill="none"/><path d="M420.42,551.73L441.64,571.2M414.7,545.84L426.48,572.12M411.52,540.08L423.53,566.25M424.08,552.78L422.74,581.55M412.74,544.05L435.65,561.5M420.41,547.67L437.73,570.68M418.68,554.41L430.74,580.56" stroke="#8a8a8a" stroke-width="0.6" opacity="0.7" fill="none"/></g><ellipse cx="450.2" cy="578" rx="12" ry="9.3" fill="#6f6f6f" opacity="0.8"/><ellipse cx="450.7" cy="577.5" rx="11.6" ry="9.2" fill="#f2f2f2"/><ellipse cx="450.2" cy="576.6" rx="11.8" ry="9.0" fill="#c9c9c9"/><g clip-path="url(#cp35)"><path d="M455.28,585.16L426.49,585.66M451.32,555.82L451.46,584.62M472.08,571L451.37,591.01M469.59,563.63L444.99,578.6M451.44,560.43L450.39,589.21M443.74,574.47L463.76,595.17M448.96,562.3L467.94,583.95M427.77,581.85L456.36,585.33M454.38,581.04L425.66,583.09M449.26,572.86L465.46,596.67" stroke="#f4f4f4" stroke-width="0.8" opacity="0.85" fill="none"/><path d="M455.83,582.4L427.28,586.25M451.61,561.45L436.69,586.08M451.93,562.32L425.61,574M429.16,574.62L456.65,583.2M433.62,570.99L461.79,576.98M456.55,570.16L445.58,596.79M456.75,560.78L453.28,589.37" stroke="#8a8a8a" stroke-width="0.6" opacity="0.7" fill="none"/></g><ellipse cx="479.1" cy="594.6" rx="12" ry="9.3" fill="#6f6f6f" opacity="0.8"/><ellipse cx="479.6" cy="594.1" rx="11.6" ry="9.2" fill="#f2f2f2"/><ellipse cx="479.1" cy="593.2" rx="11.8" ry="9.0" fill="#c9c9c9"/><g clip-path="url(#cp36)"><path d="M494.68,582.7L469.82,597.24M478.04,577.59L496.94,599.32M457.85,586.25L484.2,597.87M474.81,594.88L503.6,595.45M485.1,574.73L472.07,600.42M483.13,582.11L496.79,607.47M476.9,575.31L484.06,603.21M463.31,576.11L479.73,599.77M473.7,586.12L472.78,614.9M487.94,592.38L462.59,606.05" stroke="#f4f4f4" stroke-width="0.8" opacity="0.85" fill="none"/><path d="M499.61,589.63L471.87,597.35M469.27,582.5L480.21,609.14M487.88,585.89L472.23,610.06M456.59,585.52L483.76,595.07M455.89,581.69L483.65,589.36M460.65,592.69L486.95,604.43M480.64,573.03L485.87,601.35" stroke="#8a8a8a" stroke-width="0.6" opacity="0.7" fill="none"/></g><path d="M46.8,563.5 V578 A42.7,8 0 0 0 132.2,578 V563.5 Z" fill="#a9a9a9"/><g clip-path="url(#cp37)"><path d="M78.61,573.64L181.66,568.1M69.07,565.2L170.01,586.67M9.39,574.39L109.98,597.44M78.81,588.94L179.22,565.12M28.45,578.93L130.15,561.42M36.86,569.8L138.02,590.21M30.66,576.64L132.89,590.8M76.38,572.21L178.62,586.22M26,568.49L128.95,575.73M40.19,577.46L142.99,568.29M62.13,575.83L165.31,577.72M31.66,578.06L133.73,562.86M57.08,586.15L158.89,569.27M5.11,569.51L108.09,576.25" stroke="#c4c4c4" stroke-width="0.8" opacity="0.7" fill="none"/><path d="M47.52,582.13L150.63,586.36M36.55,573.42L138.48,589.55M58.1,573.19L159.12,594.27M78.84,581.65L181.3,569.35M58.48,577.63L161.22,567.79M11.5,569.77L114.6,574.28M52.07,560.78L151.22,589.4M-0.34,567.11L101.81,581.8" stroke="#8f8f8f" stroke-width="0.6" opacity="0.6" fill="none"/></g><ellipse cx="89.5" cy="563.5" rx="42.7" ry="7.9" fill="#c3c3c3"/><g clip-path="url(#cp38)"><path d="M21.88,538.4L112.01,588.67M125.07,508.03L108.18,609.84M177,556.56L74.33,566.96M129.24,516.89L88.57,611.74M148,560.59L44.8,561.66M126.9,548.67L34.57,594.78M44.84,507.92L52.04,610.86M134.42,509.8L97.69,606.24M127.81,556.54L27.35,580.18M149.19,523L73.9,593.57M78.85,517.86L88.52,620.61M167.9,544.7L80.04,598.83M131.77,519.47L102.32,618.38M55.24,520.49L66.83,623.04M33.77,512.62L61.01,612.16M14.84,553.54L111.71,589.11M80.07,536.89L167.44,591.8M28.69,544.02L124.93,581.29M163.14,563.21L60.1,568.94M168.97,567.86L65.77,568.86M132.49,514.74L119.79,617.16M141.23,556.84L40.85,580.83M66.01,564.83L168.83,573.7M95.83,506.72L68.52,606.24M142.44,542.27L49.34,586.8M79.18,517.68L51.5,617.1M13.46,562.99L115.2,580.28M101.24,514.81L70.72,613.4M178.82,546.38L82.09,582.37M25.12,540.21L117.53,586.16" stroke="#eeeeee" stroke-width="0.7" opacity="0.8" fill="none"/><path d="M133.62,506.54L115.53,608.14M68.6,523.3L106.48,619.3M65.72,516.72L103.08,612.92M157.78,530.57L91.07,609.3M58.71,520.83L42.92,622.82M99.95,512.68L94.85,615.75M79.52,537.32L172.56,581.97M98.84,519.88L165.11,599M64.05,522.53L103.25,617.99M8.3,525.48L85.87,593.55M82.33,531.86L13.21,608.49M109.24,555.99L6.23,562.26M118.93,512.58L93.54,612.61M151.28,511.82L109.78,606.31M9.24,528.49L85.52,598" stroke="#9a9a9a" stroke-width="0.5" opacity="0.6" fill="none"/></g><ellipse cx="113.3" cy="562.6" rx="6.2" ry="2.9" fill="none" stroke="#111" stroke-width="1.4"/><line x1="107.6" y1="561.2" x2="156.4" y2="503" stroke="#111" stroke-width="1.3" /><line x1="119.5" y1="564.2" x2="187" y2="557.2" stroke="#111" stroke-width="1.3" /><circle cx="191" cy="519.3" r="37.7" fill="#bebebe"/><g clip-path="url(#cp39)"><path d="M228.28,498.09L152.89,549.41M203.37,468.61L151.36,543.53M176.61,465.35L203.29,552.56M196.41,452.82L159.72,536.32M239.66,492.09L202.19,575.23M137.65,494.56L219.66,534.47M180.64,468.05L236.13,540.42M273.04,504.48L182.04,510.57M217.81,497.12L182.12,581.05M135.24,502.35L197.92,568.59M139.15,483.46L228.82,500.11M164.85,440.39L197.03,525.72M206.68,512.62L228.54,601.16M116.51,498.89L205.89,517.04M185.89,486.04L153.16,571.16M144.4,474.31L166.37,562.82M168.25,449.06L198.23,535.19M181.4,492.79L140.14,574.13M245.97,506.39L155.61,518.73M163.36,455.25L198.69,539.33M255.97,463.01L188.77,524.67M219.39,500.56L229.22,591.23M215.19,511.36L159.22,583.37M229.52,452.38L199.11,538.37M172.84,472.22L245.37,527.51M204.18,480.83L229.68,568.39M157.47,469.27L222.39,533.32M120.25,491.86L201.94,532.43M234.04,509.95L208.27,597.44M119.59,505.5L200.13,548.29M180.86,446.01L181.61,537.2M124.85,472.45L192.58,533.52M199.59,507.57L177.26,596M216.9,491.02L208.02,581.78M116.57,467.66L199.75,505.06M236.75,497.6L147.72,517.34M187.71,450.67L148.62,533.07M177.67,445.74L220.56,526.22M221.82,514.54L151.72,572.88M264.12,513.36L174.65,531.01M147.48,484.27L230.01,523.08M232.56,488.2L199.9,573.35M201.73,491.68L252.95,567.14M167.2,527.19L244.42,575.71M181.97,497.32L267.45,529.11M190.37,494.98L192.86,586.15M130.18,525.21L216.75,553.9M219.83,466.36L188.2,551.9M155.09,475.59L227.95,530.44M186.71,480.79L244,551.75M154.18,527.03L241.85,552.17M221.88,463.09L153.78,523.75M164.97,499.64L147.93,589.24M163,487.28L221.45,557.29M167.51,453.71L207.22,535.81M174.36,489.02L222.21,566.67M234.56,511.32L165.08,570.4M114.04,496.26L192.46,542.83M206.93,480.87L223.6,570.53M163.09,492.66L235.59,547.98M177.16,481.16L267.79,491.3M157.68,450.61L192.96,534.71M245.19,506.94L154.4,515.6M223.34,549.66L132.31,555.3M150.35,531.71L238.98,553.22M201.69,475.33L246.21,554.92M179.2,499.53L266.87,524.65M116.6,517.46L193.56,566.38M239.41,463.43L163.25,513.6M263.17,482.28L190.16,536.93" stroke="#e0e0e0" stroke-width="0.5" opacity="0.8" fill="none"/><path d="M268.93,490.78L178.12,499.18M214.36,502.46L127.83,531.25M140.18,497.94L219.89,542.26M186.92,532.48L265.17,579.32M165.01,471.92L159.65,562.96M224.66,463.92L199.19,551.49M120.97,486.78L209.4,509.12M210.87,481.65L178.1,566.76M202.47,464.84L245.74,545.12M162.25,515.45L214.13,590.45M200.68,476.27L149.47,551.74M204.59,460.93L143.91,529.01M151.15,523.47L242.27,527.4M153.21,448.05L190.67,531.2M262.23,535.03L181.42,577.31M224.31,509.89L137.87,538.97M207.49,476.26L150.68,547.6M159.9,476.16L198.19,558.93M172.1,507.09L259.03,534.67M111.63,513.89L196.81,546.48M208.31,453.29L199.41,544.06M137.4,512.62L220.77,549.58M152.82,498.06L215.33,564.47M273.71,551.77L182.97,560.93M233.86,508.13L213.73,597.08M172.03,503.08L261.29,521.81M191.9,517.91L254.77,583.98M209.82,463.82L153.24,535.34M120.53,537.71L211.12,548.31M181.65,495.1L185.64,586.22" stroke="#999999" stroke-width="0.4" opacity="0.6" fill="none"/></g><circle cx="191" cy="519.3" r="37.7" fill="none" stroke="#111" stroke-width="1.7"/><polygon points="477.5,353.8 485.8,356.2 477.5,358.6" fill="#222"/><path d="M205.2,230.1L220.5,221.5M220.5,221.5L235.6,230.1M235.6,230.1L250.8,221.5M250.8,221.5L266,230.1M266,230.1L281.4,221.5M281.4,221.5L296.8,230.1M296.8,230.1L312,221.5M312,221.5L327.6,230.1M327.6,230.1L343.8,221.5M235.6,230.1L235.6,242.6M266,230.1L266,242.6M296.8,230.1L296.8,242.6M327.6,230.1L327.6,242.6M270.6,254.2L281.4,258.8M292.2,254.2L281.4,258.8M281.4,258.8L281.4,275.1M281.4,275.1L297.42,284.35M282.82,279.04L293.3,285.09M297.42,284.35L297.42,302.85M297.42,302.85L281.4,312.1M293.3,302.11L282.82,308.16M281.4,312.1L265.38,302.85M265.38,302.85L265.38,284.35M268.08,299.65L268.08,287.55M265.38,284.35L281.4,275.1M281.4,312.1L281.4,328.2M281.4,328.4L265.6,338.3M281.09,331.67L268.68,339.44M265.6,338.3L265.6,356.5M265.6,356.5L280.84,365.3M267.02,360.44L276.72,366.04M280.84,365.3L280.84,382.9M280.84,382.9L270.36,388.95M276.72,382.16L267.02,387.76M260.84,388.95L250.36,382.9M250.36,382.9L250.36,365.3M253.06,379.7L253.06,368.5M250.36,365.3L265.6,356.5M266,399L266,403.5M360.5,293.8L360.5,297.5M365.26,307.45L375.48,313.35M375.48,313.35L375.48,330.65M372.78,316.55L372.78,327.45M375.48,330.65L360.5,339.3M360.5,339.3L345.52,330.65M359.08,335.36L349.64,329.91M345.52,330.65L345.52,313.35M345.52,313.35L355.74,307.45M349.64,314.09L359.08,308.64M360.5,339.3L360.3,354.6M360.3,354.6L344.2,363.6M357.87,353.32L344.39,360.86M344.2,363.6L344.4,381.4M344.4,381.4L360.51,390.7M360.51,390.7L360.51,409.3M357.81,393.9L357.81,406.1M360.51,409.3L344.4,418.6M344.4,418.6L328.29,409.3M342.98,414.66L332.41,408.56M328.29,409.3L328.29,390.7M328.29,390.7L344.4,381.4M332.41,391.44L342.98,385.34M344.4,418.6L344.5,436.9M344.5,436.9L334,441.8M344.5,436.9L355,441.8M283.2,472.7L297.9,463.3M297.9,463.3L313,472.7M313,472.7L328.4,463.3M328.4,463.3L344.5,472.7M344.5,472.7L360.1,463.3M360.1,463.3L375.5,472.7M375.5,472.7L391,463.3M391,463.3L405.7,472.7M405.7,472.7L420.8,463.3M297.9,463.3L297.9,452.8M328.4,463.3L328.4,452.8M360.1,463.3L360.1,452.8M391,463.3L391,452.8M449.6,356.2L479,356.2M553,241.1L568.3,232.7M568.3,232.7L583.4,241.1M583.4,241.1L598.7,232.7M598.7,232.7L614.1,241.1M614.1,241.1L629.4,232.7M629.4,232.7L645,241.1M645,241.1L660.1,232.7M660.1,232.7L675.6,241.1M675.6,241.1L690.9,232.7M583.4,241.1L583.4,252.6M614.1,241.1L614.1,252.6M645,241.1L645,252.6M675.6,241.1L675.6,252.6M618.6,264.5L629.4,269M640.2,264.5L629.4,269M629.4,269L629.4,285.8M629.4,285.8L645.16,294.9M630.82,289.74L641.04,295.64M645.16,294.9L645.16,313.1M645.16,313.1L629.4,322.2M641.04,312.36L630.82,318.26M629.4,322.2L613.64,313.1M613.64,313.1L613.64,294.9M616.34,309.9L616.34,298.1M613.64,294.9L629.4,285.8M629.4,322.2L629.4,339.8M629.4,339.8L642.9,352.5M642.9,352.5L629.4,364.9M629.4,364.9L616.2,352.5M616.2,352.5L629.4,339.8M629.4,364.9L629.4,382.7M629.4,382.7L644.82,391.6M644.82,391.6L644.82,409.4M642.12,394.8L642.12,406.2M644.82,409.4L629.4,418.3M629.4,418.3L613.98,409.4M627.98,414.36L618.11,408.66M613.98,409.4L613.98,391.6M613.98,391.6L629.4,382.7M618.11,392.34L627.98,386.64M629.4,418.3L629.6,437.5M629.6,437.5L619,442.3M629.6,437.5L640,442.3M567.3,472.6L582.7,463.4M582.7,463.4L598,472.6M598,472.6L613.4,463.4M613.4,463.4L629.6,472.6M629.6,472.6L644.2,463.4M644.2,463.4L659.6,472.6M659.6,472.6L675.4,463.4M675.4,463.4L690.3,472.6M690.3,472.6L705.6,463.4M582.7,463.4L582.7,452.8M613.4,463.4L613.4,452.8M644.2,463.4L644.2,452.8M675.4,463.4L675.4,452.8M564.35,348L570.7,337.54M570.7,337.54L589.1,337.54M573.9,340.24L585.9,340.24M589.1,337.54L598.3,352.7M598.3,352.7L589.1,367.86M594.33,354.03L588.45,363.72M589.1,367.86L570.7,367.86M570.7,367.86L564.35,357.4M571.35,363.72L565.47,354.03M598.3,352.7L616.2,352.5M549.4,352.7L556.4,352.7M660.4,352.7L669.5,337.37M664.36,351.33L670.19,341.5M669.5,337.37L687.7,337.37M687.7,337.37L693.99,347.97M687.01,341.5L692.84,351.33M693.99,357.43L687.7,368.03M687.7,368.03L669.5,368.03M684.5,365.33L672.7,365.33M669.5,368.03L660.4,352.7M642.9,352.5L660.4,352.7" stroke="#707070" stroke-width="1.45" fill="none" stroke-linecap="butt"/><g font-family="Liberation Sans, sans-serif" font-weight="bold" fill="#111" stroke="#111" stroke-width="0.3"><text x="230.25" y="254.35" font-size="13.8" text-anchor="start">OH</text><text x="260.65" y="254.35" font-size="13.8" text-anchor="start">O</text><text x="291.45" y="254.35" font-size="13.8" text-anchor="start">O</text><text x="322.25" y="254.35" font-size="13.8" text-anchor="start">OH</text><text x="260.92" y="397.15" font-size="13.8" text-anchor="start">N</text><text x="270.4" y="391.2" font-size="9.5" text-anchor="start">+</text><text x="261.5" y="415.3" font-size="13.8" text-anchor="start">CH</text><text x="281.4" y="418.5" font-size="10" text-anchor="start">3</text><text x="196.9" y="397" font-size="13.8" text-anchor="start">CH</text><text x="216.8" y="400.2" font-size="10" text-anchor="start">3</text><text x="222.6" y="397" font-size="13.8" text-anchor="start">SO</text><text x="243.1" y="400.2" font-size="10" text-anchor="start">4</text><text x="249.2" y="392" font-size="10" text-anchor="start">-</text><text x="355.5" y="292" font-size="13.8" text-anchor="start">CH</text><text x="375.4" y="295.2" font-size="10" text-anchor="start">3</text><text x="355.52" y="308.25" font-size="13.8" text-anchor="start">N</text><text x="365" y="302.3" font-size="9.5" text-anchor="start">+</text><text x="381.7" y="309.3" font-size="13.8" text-anchor="start">CH</text><text x="401.6" y="312.5" font-size="10" text-anchor="start">3</text><text x="407.4" y="309.3" font-size="13.8" text-anchor="start">SO</text><text x="427.9" y="312.5" font-size="10" text-anchor="start">4</text><text x="434" y="304.3" font-size="10" text-anchor="start">-</text><text x="292.55" y="451.05" font-size="13.8" text-anchor="start">OH</text><text x="323.05" y="451.05" font-size="13.8" text-anchor="start">O</text><text x="354.75" y="451.05" font-size="13.8" text-anchor="start">O</text><text x="385.65" y="451.05" font-size="13.8" text-anchor="start">OH</text><text x="458" y="349.3" font-size="13.6" text-anchor="start">UV</text><text x="578.05" y="264.45" font-size="13.8" text-anchor="start">OH</text><text x="608.75" y="264.45" font-size="13.8" text-anchor="start">O</text><text x="639.65" y="264.45" font-size="13.8" text-anchor="start">O</text><text x="670.25" y="264.45" font-size="13.8" text-anchor="start">OH</text><text x="577.35" y="451.25" font-size="13.8" text-anchor="start">OH</text><text x="608.05" y="451.25" font-size="13.8" text-anchor="start">O</text><text x="638.85" y="451.25" font-size="13.8" text-anchor="start">O</text><text x="670.05" y="451.25" font-size="13.8" text-anchor="start">OH</text><text x="558.32" y="358.35" font-size="13.8" text-anchor="start">N</text><text x="567.8" y="352.4" font-size="9.5" text-anchor="start">+</text><text x="557" y="341.2" font-size="13.8" text-anchor="start"></text><text x="523.4" y="358.4" font-size="13.8" text-anchor="start">H</text><text x="533.5" y="361.6" font-size="10" text-anchor="start">3</text><text x="539.2" y="358.4" font-size="13.8" text-anchor="start">C</text><text x="506.7" y="339.6" font-size="13.8" text-anchor="start">CH</text><text x="526.6" y="342.8" font-size="10" text-anchor="start">3</text><text x="532.4" y="339.6" font-size="13.8" text-anchor="start">SO</text><text x="552.9" y="342.8" font-size="10" text-anchor="start">4</text><text x="559" y="334.6" font-size="10" text-anchor="start">-</text><text x="690.92" y="358.35" font-size="13.8" text-anchor="start">N</text><text x="700.4" y="352.4" font-size="9.5" text-anchor="start">+</text><text x="708.7" y="358.4" font-size="13.8" text-anchor="start">CH</text><text x="728.6" y="361.6" font-size="10" text-anchor="start">3</text><text x="701.2" y="340.4" font-size="13.8" text-anchor="start">CH</text><text x="721.1" y="343.6" font-size="10" text-anchor="start">3</text><text x="726.9" y="340.4" font-size="13.8" text-anchor="start">SO</text><text x="747.4" y="343.6" font-size="10" text-anchor="start">4</text><text x="753.5" y="335.4" font-size="10" text-anchor="start">-</text></g><circle cx="273.8" cy="332.5" r="15.3" fill="none" stroke="#ea2a2a" stroke-width="2.2" stroke-dasharray="4.1 2.9"/><circle cx="351.4" cy="359.8" r="15.3" fill="none" stroke="#ea2a2a" stroke-width="2.2" stroke-dasharray="4.1 2.9"/><circle cx="629.5" cy="352.4" r="15.7" fill="none" stroke="#ea2a2a" stroke-width="2.2" stroke-dasharray="4.1 2.9"/>
</svg></body></html>
